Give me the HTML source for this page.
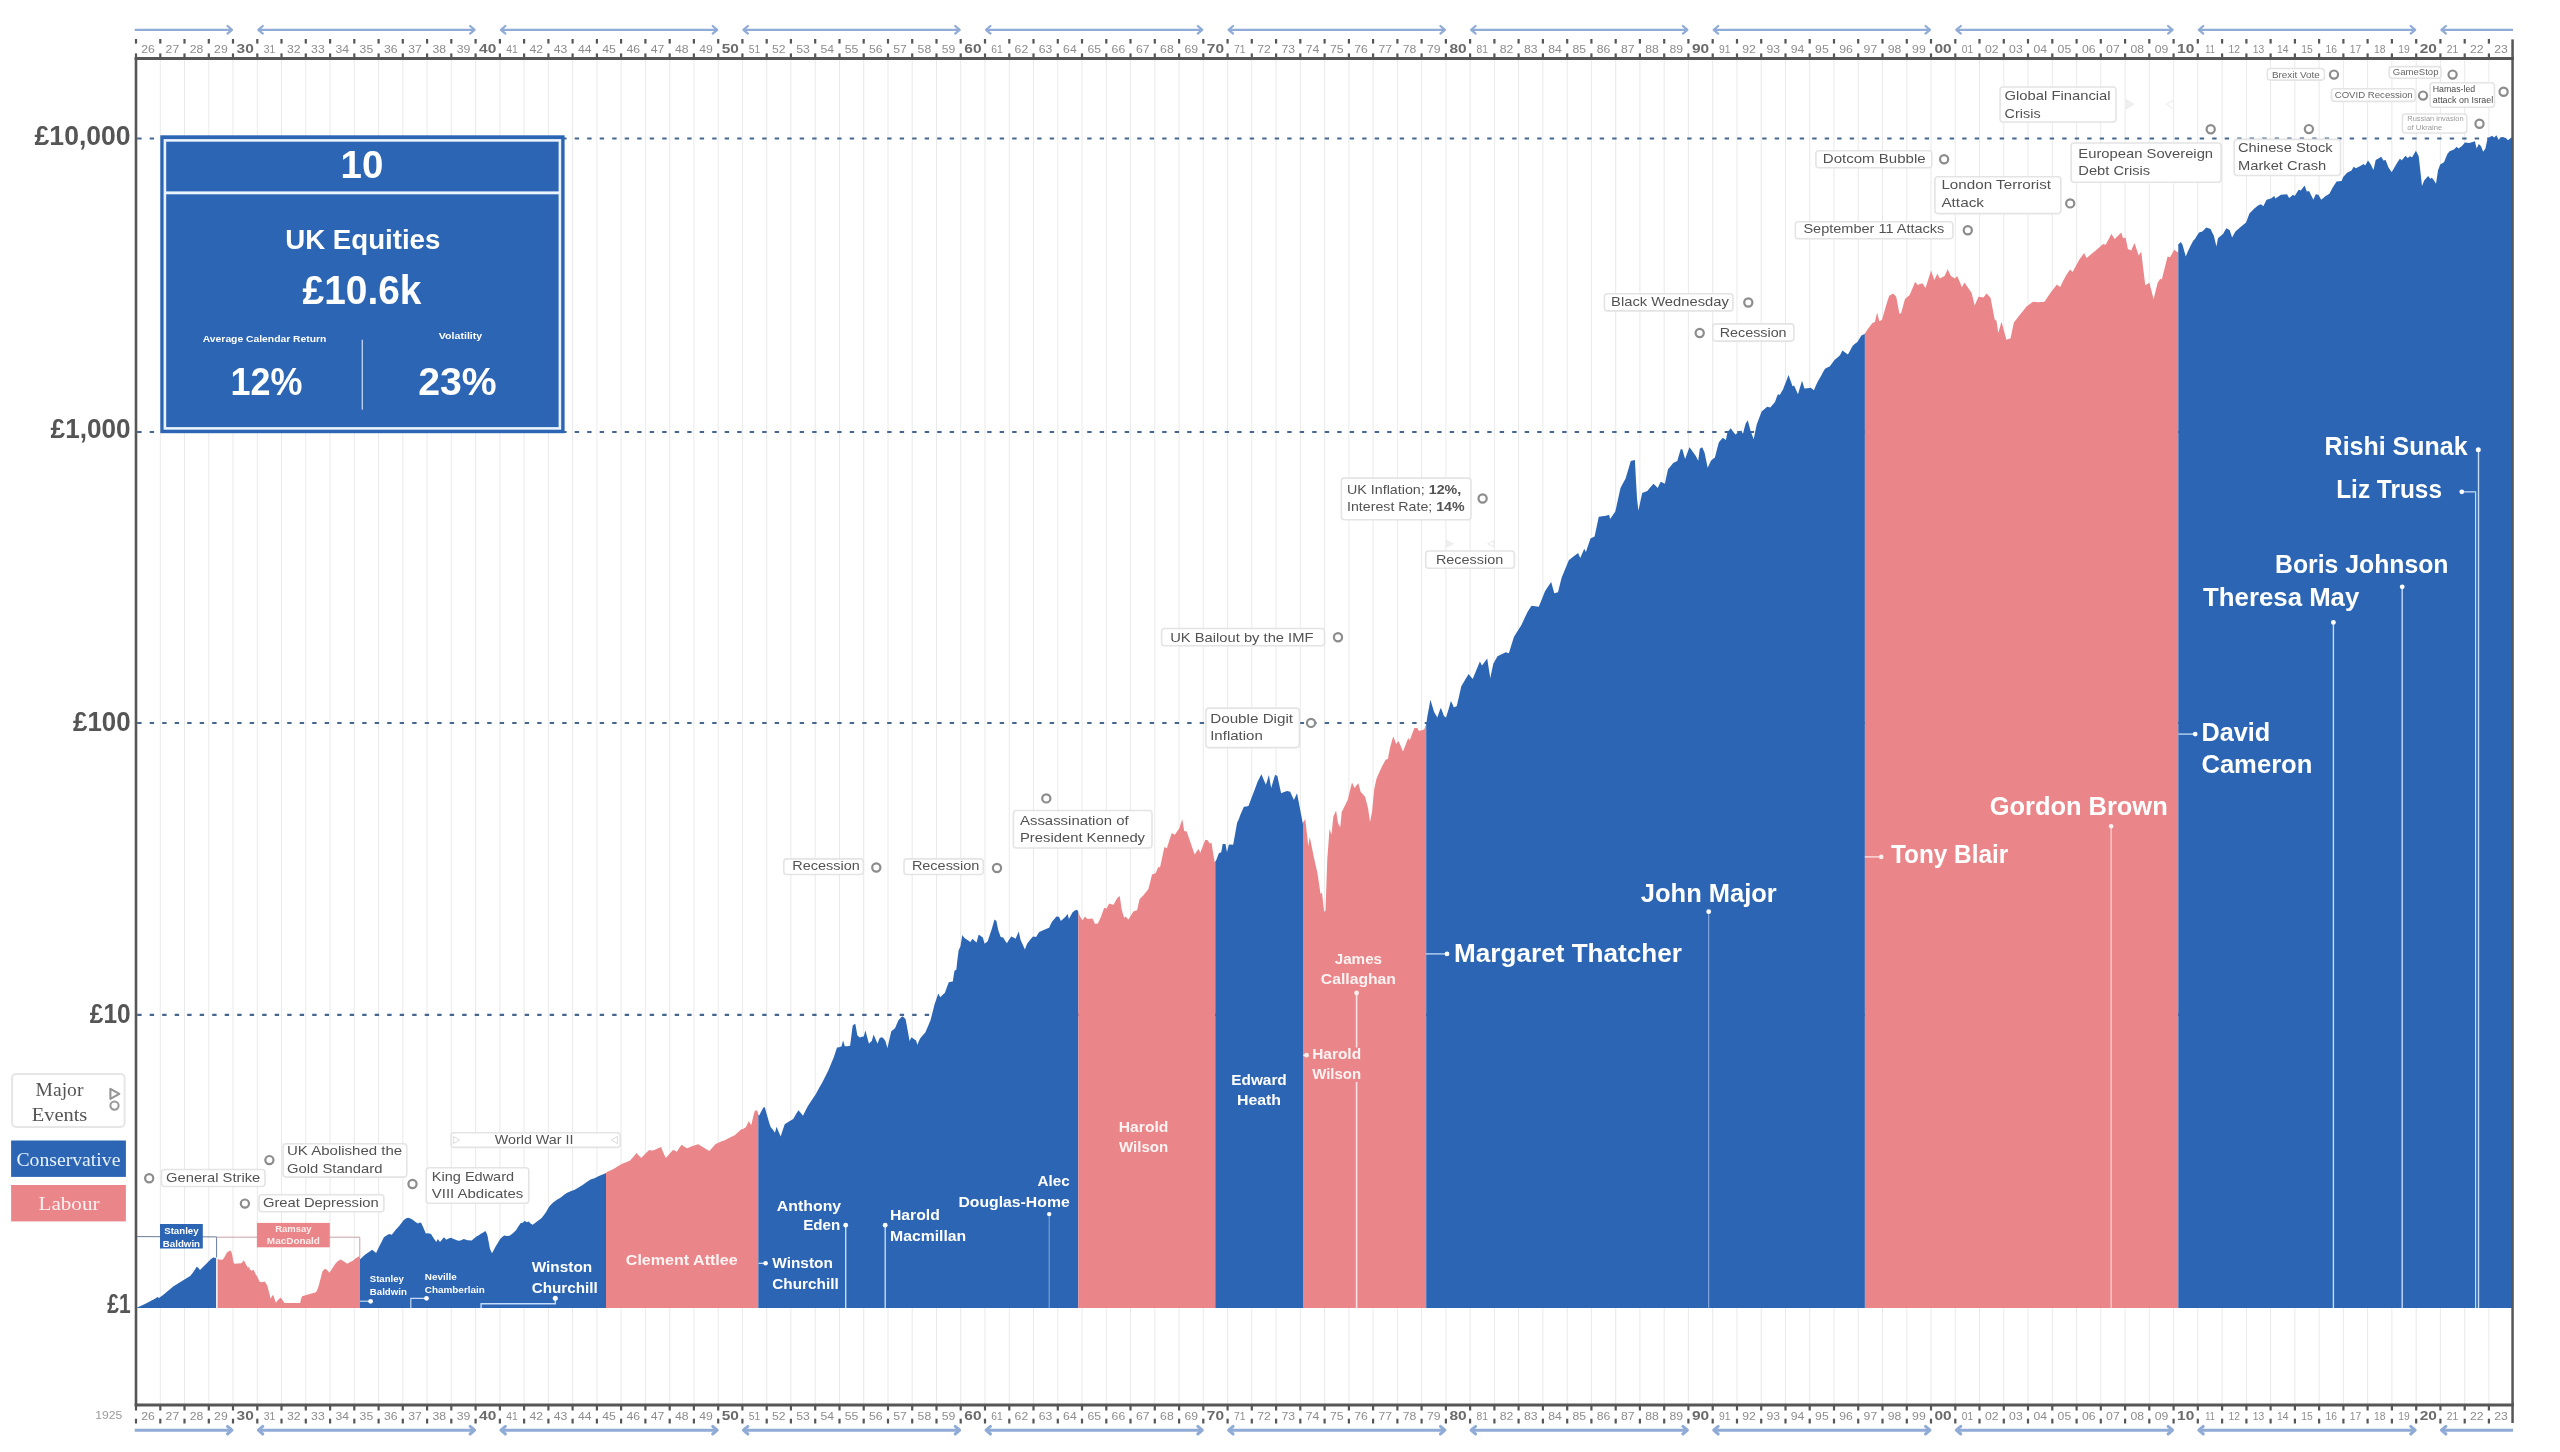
<!DOCTYPE html><html><head><meta charset="utf-8"><title>UK Equities by Prime Minister</title>
<style>html,body{margin:0;padding:0;background:#fff}body{width:2560px;height:1452px;overflow:hidden}svg{display:block;will-change:transform}text{font-family:"Liberation Sans",sans-serif}</style></head><body>
<svg width="2560" height="1452" viewBox="0 0 2560 1452">
<rect width="2560" height="1452" fill="#fff"/>
<g>
<g stroke="#dadada" stroke-width="0.6">
<line x1="160.3" y1="60" x2="160.3" y2="1404"/>
<line x1="184.5" y1="60" x2="184.5" y2="1404"/>
<line x1="208.8" y1="60" x2="208.8" y2="1404"/>
<line x1="233.0" y1="60" x2="233.0" y2="1404"/>
<line x1="257.3" y1="60" x2="257.3" y2="1404"/>
<line x1="281.5" y1="60" x2="281.5" y2="1404"/>
<line x1="305.8" y1="60" x2="305.8" y2="1404"/>
<line x1="330.1" y1="60" x2="330.1" y2="1404"/>
<line x1="354.3" y1="60" x2="354.3" y2="1404"/>
<line x1="378.6" y1="60" x2="378.6" y2="1404"/>
<line x1="402.8" y1="60" x2="402.8" y2="1404"/>
<line x1="427.1" y1="60" x2="427.1" y2="1404"/>
<line x1="451.3" y1="60" x2="451.3" y2="1404"/>
<line x1="475.6" y1="60" x2="475.6" y2="1404"/>
<line x1="499.9" y1="60" x2="499.9" y2="1404"/>
<line x1="524.1" y1="60" x2="524.1" y2="1404"/>
<line x1="548.4" y1="60" x2="548.4" y2="1404"/>
<line x1="572.6" y1="60" x2="572.6" y2="1404"/>
<line x1="596.9" y1="60" x2="596.9" y2="1404"/>
<line x1="621.1" y1="60" x2="621.1" y2="1404"/>
<line x1="645.4" y1="60" x2="645.4" y2="1404"/>
<line x1="669.7" y1="60" x2="669.7" y2="1404"/>
<line x1="693.9" y1="60" x2="693.9" y2="1404"/>
<line x1="718.2" y1="60" x2="718.2" y2="1404"/>
<line x1="742.4" y1="60" x2="742.4" y2="1404"/>
<line x1="766.7" y1="60" x2="766.7" y2="1404"/>
<line x1="790.9" y1="60" x2="790.9" y2="1404"/>
<line x1="815.2" y1="60" x2="815.2" y2="1404"/>
<line x1="839.5" y1="60" x2="839.5" y2="1404"/>
<line x1="863.7" y1="60" x2="863.7" y2="1404"/>
<line x1="888.0" y1="60" x2="888.0" y2="1404"/>
<line x1="912.2" y1="60" x2="912.2" y2="1404"/>
<line x1="936.5" y1="60" x2="936.5" y2="1404"/>
<line x1="960.7" y1="60" x2="960.7" y2="1404"/>
<line x1="985.0" y1="60" x2="985.0" y2="1404"/>
<line x1="1009.3" y1="60" x2="1009.3" y2="1404"/>
<line x1="1033.5" y1="60" x2="1033.5" y2="1404"/>
<line x1="1057.8" y1="60" x2="1057.8" y2="1404"/>
<line x1="1082.0" y1="60" x2="1082.0" y2="1404"/>
<line x1="1106.3" y1="60" x2="1106.3" y2="1404"/>
<line x1="1130.5" y1="60" x2="1130.5" y2="1404"/>
<line x1="1154.8" y1="60" x2="1154.8" y2="1404"/>
<line x1="1179.1" y1="60" x2="1179.1" y2="1404"/>
<line x1="1203.3" y1="60" x2="1203.3" y2="1404"/>
<line x1="1227.6" y1="60" x2="1227.6" y2="1404"/>
<line x1="1251.8" y1="60" x2="1251.8" y2="1404"/>
<line x1="1276.1" y1="60" x2="1276.1" y2="1404"/>
<line x1="1300.3" y1="60" x2="1300.3" y2="1404"/>
<line x1="1324.6" y1="60" x2="1324.6" y2="1404"/>
<line x1="1348.9" y1="60" x2="1348.9" y2="1404"/>
<line x1="1373.1" y1="60" x2="1373.1" y2="1404"/>
<line x1="1397.4" y1="60" x2="1397.4" y2="1404"/>
<line x1="1421.6" y1="60" x2="1421.6" y2="1404"/>
<line x1="1445.9" y1="60" x2="1445.9" y2="1404"/>
<line x1="1470.1" y1="60" x2="1470.1" y2="1404"/>
<line x1="1494.4" y1="60" x2="1494.4" y2="1404"/>
<line x1="1518.6" y1="60" x2="1518.6" y2="1404"/>
<line x1="1542.9" y1="60" x2="1542.9" y2="1404"/>
<line x1="1567.2" y1="60" x2="1567.2" y2="1404"/>
<line x1="1591.4" y1="60" x2="1591.4" y2="1404"/>
<line x1="1615.7" y1="60" x2="1615.7" y2="1404"/>
<line x1="1639.9" y1="60" x2="1639.9" y2="1404"/>
<line x1="1664.2" y1="60" x2="1664.2" y2="1404"/>
<line x1="1688.4" y1="60" x2="1688.4" y2="1404"/>
<line x1="1712.7" y1="60" x2="1712.7" y2="1404"/>
<line x1="1737.0" y1="60" x2="1737.0" y2="1404"/>
<line x1="1761.2" y1="60" x2="1761.2" y2="1404"/>
<line x1="1785.5" y1="60" x2="1785.5" y2="1404"/>
<line x1="1809.7" y1="60" x2="1809.7" y2="1404"/>
<line x1="1834.0" y1="60" x2="1834.0" y2="1404"/>
<line x1="1858.2" y1="60" x2="1858.2" y2="1404"/>
<line x1="1882.5" y1="60" x2="1882.5" y2="1404"/>
<line x1="1906.8" y1="60" x2="1906.8" y2="1404"/>
<line x1="1931.0" y1="60" x2="1931.0" y2="1404"/>
<line x1="1955.3" y1="60" x2="1955.3" y2="1404"/>
<line x1="1979.5" y1="60" x2="1979.5" y2="1404"/>
<line x1="2003.8" y1="60" x2="2003.8" y2="1404"/>
<line x1="2028.0" y1="60" x2="2028.0" y2="1404"/>
<line x1="2052.3" y1="60" x2="2052.3" y2="1404"/>
<line x1="2076.6" y1="60" x2="2076.6" y2="1404"/>
<line x1="2100.8" y1="60" x2="2100.8" y2="1404"/>
<line x1="2125.1" y1="60" x2="2125.1" y2="1404"/>
<line x1="2149.3" y1="60" x2="2149.3" y2="1404"/>
<line x1="2173.6" y1="60" x2="2173.6" y2="1404"/>
<line x1="2197.8" y1="60" x2="2197.8" y2="1404"/>
<line x1="2222.1" y1="60" x2="2222.1" y2="1404"/>
<line x1="2246.4" y1="60" x2="2246.4" y2="1404"/>
<line x1="2270.6" y1="60" x2="2270.6" y2="1404"/>
<line x1="2294.9" y1="60" x2="2294.9" y2="1404"/>
<line x1="2319.1" y1="60" x2="2319.1" y2="1404"/>
<line x1="2343.4" y1="60" x2="2343.4" y2="1404"/>
<line x1="2367.6" y1="60" x2="2367.6" y2="1404"/>
<line x1="2391.9" y1="60" x2="2391.9" y2="1404"/>
<line x1="2416.2" y1="60" x2="2416.2" y2="1404"/>
<line x1="2440.4" y1="60" x2="2440.4" y2="1404"/>
<line x1="2464.7" y1="60" x2="2464.7" y2="1404"/>
<line x1="2488.9" y1="60" x2="2488.9" y2="1404"/>
</g>
<g stroke="#46668f" stroke-width="2.2" stroke-dasharray="4.4 8.1">
<line x1="137.2" y1="138.5" x2="2512" y2="138.5"/>
<line x1="137.2" y1="432.0" x2="2512" y2="432.0"/>
<line x1="137.2" y1="723.0" x2="2512" y2="723.0"/>
<line x1="137.2" y1="1014.8" x2="2512" y2="1014.8"/>
</g>
<path d="M136.5,1308 L136.5,1307.4 L137.2,1307.4 L145.0,1304.0 L154.9,1298.8 L157.5,1297.0 L159.0,1298.0 L164.0,1294.3 L173.2,1286.4 L182.0,1281.0 L190.2,1276.0 L193.0,1272.5 L196.8,1266.8 L198.0,1267.5 L200.0,1270.0 L204.0,1266.0 L208.5,1261.5 L211.0,1259.0 L213.8,1257.2 L215.0,1258.3 L216.1,1257.6 L216.1,1257.6 L216.1,1308 Z" fill="#2b65b4"/>
<path d="M217.4,1308 L217.4,1258.9 L217.7,1258.9 L220.0,1259.8 L222.9,1259.6 L224.5,1257.0 L226.9,1252.4 L228.5,1251.5 L230.1,1250.4 L231.2,1251.5 L232.1,1254.3 L233.4,1262.2 L234.7,1263.8 L238.0,1263.6 L241.3,1263.2 L242.5,1262.0 L243.9,1260.2 L245.5,1263.5 L247.8,1267.4 L249.0,1267.0 L250.0,1269.5 L251.7,1270.7 L253.7,1269.8 L255.5,1274.0 L257.5,1277.0 L259.6,1281.8 L262.0,1282.3 L264.8,1281.6 L267.4,1285.8 L269.0,1292.0 L270.7,1298.8 L272.0,1296.0 L273.3,1294.9 L274.6,1299.0 L275.9,1302.8 L278.0,1300.0 L280.5,1297.5 L282.5,1300.0 L284.4,1303.0 L292.0,1303.0 L300.2,1303.0 L301.0,1299.0 L302.1,1296.2 L308.0,1294.5 L315.9,1292.3 L317.2,1290.0 L318.5,1286.4 L320.5,1279.0 L322.4,1271.4 L324.0,1269.5 L325.7,1268.7 L327.5,1270.5 L329.6,1272.7 L332.5,1268.0 L335.5,1263.5 L338.0,1261.0 L340.7,1259.6 L344.0,1261.5 L347.3,1263.8 L350.0,1262.0 L352.5,1260.9 L355.5,1258.5 L359.0,1256.3 L360.0,1257.5 L360.0,1257.5 L360.0,1308 Z" fill="#ea8689"/>
<path d="M360.0,1308 L360.0,1258.9 L360.4,1258.9 L363.0,1256.5 L365.6,1254.3 L369.0,1252.0 L372.1,1249.8 L374.0,1251.2 L376.1,1253.0 L378.0,1249.0 L380.0,1245.0 L383.9,1237.3 L386.5,1235.5 L389.2,1234.1 L391.8,1234.7 L395.5,1230.0 L399.6,1225.5 L401.5,1223.0 L403.6,1220.3 L405.8,1218.6 L408.1,1217.7 L410.5,1218.4 L412.7,1219.7 L415.5,1222.0 L418.0,1223.6 L419.8,1222.6 L421.2,1222.9 L423.5,1228.0 L425.8,1233.4 L428.3,1233.2 L431.0,1234.1 L433.5,1238.0 L436.3,1241.9 L437.8,1239.0 L440.0,1242.1 L442.0,1239.5 L444.0,1237.3 L446.3,1239.7 L448.5,1238.5 L451.1,1237.7 L453.5,1239.0 L455.8,1239.7 L458.0,1240.8 L460.6,1240.5 L463.8,1238.9 L467.5,1240.3 L471.7,1240.5 L474.0,1238.5 L476.4,1236.5 L478.8,1235.2 L481.2,1233.4 L483.2,1232.5 L485.2,1231.0 L486.3,1232.5 L487.5,1235.8 L488.7,1242.0 L489.9,1248.4 L491.0,1251.2 L492.0,1253.2 L493.5,1250.5 L495.5,1246.8 L497.8,1243.0 L500.2,1238.9 L502.2,1237.0 L504.2,1235.4 L507.0,1235.9 L509.7,1235.8 L512.8,1233.2 L516.0,1230.2 L518.3,1226.5 L520.8,1223.1 L522.8,1222.8 L524.8,1220.7 L526.6,1222.3 L528.7,1221.5 L530.6,1223.6 L532.7,1224.7 L537.0,1221.5 L541.4,1218.3 L543.8,1215.3 L546.1,1212.0 L547.8,1209.0 L549.3,1206.4 L551.6,1204.0 L554.1,1201.7 L557.3,1199.6 L560.4,1197.7 L563.5,1195.2 L566.7,1193.0 L570.6,1191.3 L574.7,1189.8 L578.5,1187.6 L582.6,1185.1 L586.4,1182.2 L590.5,1179.5 L594.5,1178.3 L598.4,1176.3 L602.0,1174.8 L605.6,1173.2 L606.0,1173.2 L606.0,1308 Z" fill="#2b65b4"/>
<path d="M606.0,1308 L606.0,1172.5 L606.5,1172.5 L607.9,1171.6 L611.0,1170.2 L614.3,1168.4 L618.2,1166.0 L622.2,1163.7 L626.2,1162.3 L630.1,1160.5 L633.2,1157.0 L636.5,1153.1 L638.8,1155.5 L641.2,1158.1 L645.0,1154.0 L649.1,1149.9 L651.5,1150.6 L653.9,1150.2 L657.5,1148.4 L661.0,1147.0 L663.3,1152.5 L665.8,1158.1 L669.4,1154.0 L672.9,1149.9 L674.9,1150.6 L676.9,1151.8 L679.2,1148.0 L681.6,1144.7 L684.4,1146.8 L687.1,1148.3 L692.5,1146.0 L698.2,1144.2 L703.5,1147.5 L709.3,1151.0 L712.5,1147.5 L715.7,1143.9 L720.5,1141.7 L725.2,1139.9 L730.0,1137.4 L734.7,1135.2 L737.8,1132.5 L741.0,1129.6 L743.5,1128.7 L745.8,1127.2 L747.4,1124.0 L748.9,1120.9 L750.1,1123.5 L751.3,1124.9 L752.9,1118.0 L754.5,1111.4 L755.7,1110.6 L756.9,1110.3 L757.6,1112.0 L758.3,1113.8 L758.3,1113.8 L758.3,1308 Z" fill="#ea8689"/>
<path d="M758.3,1308 L758.3,1115.0 L758.6,1115.0 L759.2,1115.5 L761.2,1111.5 L763.4,1107.5 L764.8,1107.3 L766.4,1113.0 L767.9,1118.2 L769.4,1123.5 L770.9,1127.5 L772.8,1129.5 L774.9,1132.7 L775.7,1130.0 L776.6,1126.8 L778.5,1131.5 L780.7,1136.6 L782.6,1130.5 L784.7,1124.2 L789.0,1121.4 L793.2,1118.9 L795.8,1114.5 L798.4,1110.2 L800.8,1113.0 L803.0,1115.7 L805.2,1111.2 L807.6,1106.5 L811.5,1100.5 L815.4,1094.7 L818.7,1088.8 L822.0,1083.0 L825.3,1076.5 L828.5,1069.9 L831.0,1064.0 L833.7,1057.5 L835.3,1052.8 L837.0,1047.6 L839.3,1047.2 L841.6,1046.3 L842.4,1043.0 L843.1,1040.5 L844.0,1043.5 L844.8,1046.3 L847.5,1046.2 L850.1,1045.7 L851.4,1035.5 L852.7,1025.4 L854.0,1024.4 L855.3,1023.8 L856.3,1029.5 L857.3,1035.2 L858.6,1036.5 L859.9,1037.4 L861.8,1036.8 L863.8,1036.5 L864.6,1033.5 L865.4,1030.6 L867.2,1037.2 L869.0,1043.7 L870.3,1042.2 L871.7,1041.1 L872.7,1037.8 L873.6,1034.6 L875.6,1039.2 L877.6,1043.7 L878.5,1041.0 L879.5,1038.5 L880.8,1037.5 L882.1,1037.2 L883.8,1038.8 L885.4,1041.1 L886.4,1044.5 L887.4,1048.3 L889.3,1039.8 L891.3,1031.3 L893.2,1029.8 L895.2,1028.0 L896.8,1024.0 L898.5,1020.2 L900.5,1018.0 L902.4,1016.3 L904.0,1017.5 L905.7,1019.5 L907.7,1030.5 L909.6,1041.1 L910.6,1039.0 L911.6,1037.2 L913.8,1039.0 L916.1,1040.5 L917.4,1045.0 L918.7,1041.5 L920.1,1038.5 L922.6,1035.5 L925.3,1032.6 L927.9,1026.5 L930.5,1020.2 L932.5,1012.5 L934.5,1004.5 L936.4,999.0 L938.4,993.4 L939.4,995.5 L940.3,997.3 L942.5,995.0 L944.9,992.7 L946.8,987.5 L948.8,982.2 L950.8,981.8 L952.8,981.6 L953.6,976.0 L954.5,970.8 L956.3,969.8 L957.4,960.0 L958.6,950.6 L960.5,946.3 L961.4,940.5 L962.3,935.1 L963.5,936.7 L964.8,938.2 L967.5,940.0 L970.4,941.9 L971.5,940.2 L972.5,938.8 L974.5,940.7 L976.6,942.6 L977.6,938.5 L978.7,934.5 L980.7,936.0 L982.8,937.6 L983.7,940.5 L984.6,943.8 L986.2,942.5 L987.7,941.3 L989.5,935.8 L991.4,930.2 L993.0,924.8 L994.5,919.6 L996.4,920.9 L997.3,925.5 L998.3,930.2 L999.5,933.8 L1000.7,937.0 L1003.2,937.6 L1005.0,940.5 L1006.9,943.2 L1009.0,939.8 L1011.3,936.4 L1013.5,937.6 L1015.6,938.8 L1017.2,935.0 L1018.7,931.4 L1019.6,935.5 L1020.6,940.1 L1022.8,944.8 L1024.9,949.4 L1026.1,946.2 L1027.4,943.2 L1030.2,939.8 L1033.0,936.4 L1036.1,937.0 L1037.6,934.5 L1039.2,932.0 L1042.6,930.4 L1046.0,928.9 L1049.1,927.7 L1050.6,924.6 L1052.2,921.5 L1054.3,919.0 L1056.5,916.5 L1059.0,916.8 L1060.9,920.9 L1063.0,919.0 L1065.2,917.1 L1067.7,914.0 L1068.9,919.0 L1070.8,915.6 L1072.6,912.2 L1074.5,910.8 L1076.4,909.7 L1077.4,910.2 L1078.2,911.6 L1078.3,911.6 L1078.3,1308 Z" fill="#2b65b4"/>
<path d="M1078.3,1308 L1078.3,913.0 L1078.6,913.0 L1080.1,916.5 L1081.3,918.5 L1082.6,920.2 L1083.8,918.3 L1085.0,916.5 L1086.2,917.8 L1087.5,919.0 L1090.0,918.7 L1092.5,918.4 L1093.7,921.0 L1095.0,924.0 L1096.5,923.8 L1098.0,923.3 L1099.5,920.0 L1101.1,916.5 L1102.6,912.2 L1104.2,907.8 L1105.5,908.3 L1106.7,908.5 L1108.0,905.8 L1109.2,903.5 L1111.3,904.2 L1113.5,904.7 L1115.4,901.3 L1117.3,897.9 L1118.5,897.0 L1119.7,896.1 L1120.7,902.5 L1121.6,909.1 L1122.8,913.5 L1124.1,917.8 L1125.9,916.5 L1127.1,918.2 L1128.4,919.6 L1130.9,915.5 L1133.4,911.6 L1135.2,910.8 L1137.1,910.3 L1138.3,904.7 L1139.6,899.2 L1141.4,897.2 L1143.3,895.5 L1145.8,892.3 L1148.3,889.3 L1150.2,882.0 L1152.0,874.4 L1153.8,873.9 L1155.7,873.1 L1157.0,870.0 L1158.2,866.9 L1160.0,867.6 L1162.2,857.5 L1164.4,847.1 L1166.9,848.3 L1169.3,840.5 L1171.8,832.9 L1173.3,833.9 L1174.9,834.7 L1177.0,831.5 L1179.2,828.5 L1180.7,824.0 L1182.3,819.2 L1183.2,825.0 L1184.2,831.0 L1186.7,831.6 L1189.8,840.5 L1192.9,849.6 L1194.7,854.5 L1196.6,851.5 L1198.5,849.0 L1200.3,852.7 L1202.8,846.2 L1205.3,839.7 L1207.8,840.3 L1209.6,843.4 L1211.5,842.8 L1213.0,852.5 L1214.6,862.0 L1215.3,862.5 L1215.3,862.5 L1215.3,1308 Z" fill="#ea8689"/>
<path d="M1215.3,1308 L1215.3,861.0 L1215.9,861.0 L1217.4,857.0 L1218.9,853.2 L1221.2,852.3 L1222.0,848.0 L1222.7,843.9 L1225.5,843.9 L1226.2,848.0 L1227.0,852.3 L1227.9,848.5 L1228.8,844.7 L1230.7,844.4 L1232.6,844.7 L1233.2,844.6 L1235.2,833.6 L1237.1,822.7 L1238.7,819.5 L1240.5,814.5 L1243.9,806.8 L1246.2,806.6 L1248.5,806.1 L1250.7,800.0 L1253.0,793.9 L1255.3,788.0 L1257.6,781.8 L1259.5,778.0 L1261.4,774.2 L1263.6,779.5 L1265.9,784.8 L1267.4,779.9 L1268.9,775.0 L1270.0,781.5 L1271.2,787.9 L1273.1,781.5 L1275.0,775.0 L1277.3,775.8 L1279.2,784.5 L1281.1,793.2 L1284.1,792.0 L1287.1,790.9 L1290.2,791.7 L1292.0,795.8 L1293.9,800.0 L1295.5,796.5 L1297.0,793.2 L1298.1,798.8 L1299.2,804.5 L1301.1,814.5 L1303.0,824.2 L1303.0,824.2 L1303.0,1308 Z" fill="#2b65b4"/>
<path d="M1303.0,1308 L1303.0,822.0 L1303.5,822.0 L1305.3,818.9 L1306.8,832.5 L1308.3,846.2 L1309.0,841.5 L1309.8,837.1 L1311.7,846.6 L1313.6,856.1 L1315.5,864.4 L1317.4,872.7 L1319.0,883.3 L1320.5,893.9 L1322.0,892.4 L1323.1,902.2 L1324.2,912.1 L1325.5,910.6 L1326.4,885.0 L1327.3,859.1 L1328.4,844.0 L1329.5,828.8 L1330.5,831.8 L1331.5,834.8 L1332.4,825.7 L1333.3,816.7 L1334.7,813.6 L1336.1,810.6 L1337.0,816.6 L1337.9,822.7 L1339.0,825.0 L1340.2,827.3 L1341.0,819.7 L1341.7,812.1 L1344.7,806.0 L1347.7,800.0 L1349.8,791.3 L1352.0,782.6 L1353.3,785.2 L1354.5,787.9 L1356.4,785.6 L1358.3,783.3 L1359.5,787.5 L1360.6,791.7 L1362.9,794.3 L1365.2,797.0 L1366.7,803.0 L1368.2,809.1 L1369.1,815.5 L1370.0,822.0 L1371.0,817.0 L1372.0,812.1 L1373.1,800.7 L1374.2,789.4 L1375.3,784.1 L1376.5,778.8 L1379.1,772.7 L1381.8,766.7 L1383.7,763.2 L1385.6,759.8 L1387.9,759.1 L1389.0,753.0 L1390.2,747.0 L1391.7,741.7 L1393.2,736.4 L1394.7,740.1 L1396.2,743.9 L1397.3,742.4 L1398.5,740.9 L1400.8,746.2 L1403.0,751.5 L1405.6,744.7 L1408.3,737.9 L1409.8,740.2 L1412.1,734.1 L1414.4,728.0 L1417.4,728.0 L1418.9,731.1 L1421.5,730.3 L1424.2,729.5 L1425.2,726.8 L1426.1,724.2 L1426.2,724.2 L1426.2,1308 Z" fill="#ea8689"/>
<path d="M1426.2,1308 L1426.2,722.0 L1426.6,722.0 L1427.3,716.7 L1428.9,708.3 L1430.4,699.8 L1432.3,706.0 L1434.1,712.1 L1435.6,714.4 L1437.3,717.5 L1439.0,712.5 L1440.8,707.8 L1442.4,711.8 L1443.9,715.9 L1446.0,717.4 L1448.5,709.4 L1450.9,701.0 L1452.4,704.0 L1453.9,707.4 L1456.8,705.9 L1459.1,696.0 L1461.3,686.3 L1465.0,680.0 L1468.6,673.9 L1470.6,676.5 L1472.7,679.0 L1476.3,670.2 L1479.9,661.5 L1482.0,665.6 L1484.6,662.0 L1487.2,658.4 L1488.7,668.2 L1490.3,678.0 L1491.8,670.7 L1493.4,663.5 L1495.4,659.9 L1497.5,656.3 L1501.6,654.2 L1505.8,652.2 L1508.9,653.2 L1511.4,645.0 L1514.0,636.7 L1517.6,631.0 L1521.3,625.3 L1524.4,618.6 L1527.5,611.9 L1529.5,608.8 L1531.6,605.7 L1535.2,606.2 L1538.8,606.7 L1541.9,599.0 L1545.0,591.2 L1548.1,586.5 L1551.2,581.9 L1552.7,587.6 L1554.3,593.3 L1558.0,592.2 L1559.8,585.0 L1561.6,577.8 L1565.2,569.0 L1568.8,560.2 L1573.4,556.6 L1578.1,553.0 L1580.2,558.1 L1582.2,553.4 L1584.3,548.8 L1585.9,551.9 L1588.2,545.2 L1590.5,538.5 L1592.5,537.4 L1594.6,536.4 L1596.7,526.6 L1598.8,516.8 L1602.4,516.3 L1606.0,515.8 L1609.1,514.7 L1610.1,518.9 L1612.7,515.2 L1615.3,511.6 L1617.9,499.7 L1620.5,487.9 L1623.0,483.2 L1625.6,478.6 L1628.2,469.8 L1630.8,461.0 L1634.9,460.0 L1635.9,479.0 L1637.0,498.2 L1638.4,510.6 L1640.3,501.8 L1642.2,493.0 L1644.7,492.0 L1647.3,491.0 L1650.4,487.3 L1653.5,483.7 L1655.6,485.8 L1657.7,487.9 L1659.2,484.8 L1660.8,481.7 L1662.8,482.7 L1664.9,483.7 L1666.4,476.5 L1668.0,469.3 L1670.6,466.2 L1673.2,463.1 L1675.2,462.0 L1677.3,461.0 L1679.0,455.0 L1680.8,449.0 L1682.4,449.6 L1683.7,454.3 L1685.1,459.1 L1687.3,453.1 L1689.5,447.2 L1692.6,451.5 L1695.8,455.9 L1698.2,460.7 L1699.0,454.7 L1699.8,448.8 L1702.2,447.2 L1704.6,452.8 L1706.1,460.3 L1707.7,467.8 L1709.3,464.2 L1710.9,460.7 L1712.9,459.1 L1714.9,457.5 L1716.8,450.0 L1718.8,442.5 L1720.8,440.1 L1722.8,437.7 L1725.9,440.1 L1726.7,436.1 L1727.5,432.2 L1729.1,430.2 L1730.7,428.2 L1733.0,431.4 L1735.4,434.6 L1738.2,432.6 L1741.0,430.6 L1743.0,433.8 L1744.3,428.6 L1745.7,423.5 L1747.8,420.3 L1749.1,425.4 L1750.5,430.6 L1752.1,434.9 L1753.7,439.3 L1755.2,431.8 L1756.8,424.3 L1759.2,417.9 L1761.6,411.6 L1764.3,409.2 L1767.1,406.8 L1770.3,407.6 L1772.6,404.8 L1775.0,402.1 L1776.4,398.1 L1777.9,394.2 L1779.8,394.9 L1781.4,392.1 L1783.0,389.4 L1784.5,385.4 L1786.1,381.5 L1788.5,375.1 L1790.5,380.6 L1792.5,386.2 L1794.1,385.4 L1796.0,389.8 L1798.0,394.2 L1800.0,387.4 L1802.0,380.7 L1803.2,384.6 L1804.4,388.6 L1807.5,388.2 L1810.7,387.8 L1813.9,390.2 L1815.8,385.8 L1817.8,381.5 L1821.0,375.9 L1823.0,372.3 L1825.0,368.8 L1827.3,367.6 L1829.7,366.4 L1832.1,363.2 L1834.5,360.1 L1837.2,357.7 L1840.0,355.3 L1842.4,350.6 L1845.1,352.6 L1847.9,354.6 L1850.3,350.2 L1852.7,345.8 L1855.0,343.8 L1857.4,341.9 L1859.4,338.7 L1861.4,335.5 L1864.6,334.0 L1864.9,334.0 L1864.9,1308 Z" fill="#2b65b4"/>
<path d="M1864.9,1308 L1864.9,333.0 L1865.2,333.0 L1867.7,329.2 L1870.1,326.0 L1872.5,322.9 L1874.9,322.1 L1876.0,317.3 L1877.2,312.6 L1878.2,317.0 L1879.3,321.3 L1882.0,319.7 L1883.9,312.9 L1885.9,306.2 L1887.5,301.0 L1889.1,295.9 L1891.1,294.7 L1893.1,293.6 L1896.2,296.7 L1897.8,305.0 L1899.4,313.4 L1901.0,313.4 L1903.0,306.2 L1905.0,299.1 L1907.3,297.1 L1909.7,295.1 L1912.4,288.4 L1915.2,281.7 L1917.6,284.9 L1920.0,284.1 L1922.4,283.3 L1925.5,288.0 L1928.3,279.3 L1931.1,270.6 L1932.7,275.3 L1934.3,280.1 L1937.4,273.8 L1939.8,278.5 L1942.2,277.3 L1944.6,276.1 L1946.1,272.7 L1947.7,269.3 L1949.3,272.7 L1950.9,276.1 L1954.9,278.5 L1957.2,276.1 L1959.6,281.6 L1962.0,287.2 L1964.4,282.5 L1967.9,287.6 L1971.5,292.8 L1973.1,299.1 L1974.7,305.4 L1976.6,301.0 L1978.6,296.7 L1983.4,297.5 L1986.5,293.6 L1988.5,295.5 L1990.6,298.0 L1992.7,309.0 L1994.7,319.5 L1996.5,320.8 L1998.3,333.0 L1999.9,327.5 L2001.5,321.7 L2004.0,330.7 L2006.4,339.8 L2010.6,338.2 L2012.2,330.3 L2013.9,322.5 L2016.8,318.7 L2019.7,315.0 L2023.0,310.9 L2026.3,306.8 L2029.6,304.3 L2032.9,301.8 L2038.7,302.3 L2044.5,301.8 L2047.8,296.8 L2051.1,291.9 L2054.0,288.2 L2056.9,284.5 L2060.2,286.9 L2063.1,281.1 L2066.0,275.4 L2068.0,272.5 L2070.1,269.6 L2072.6,272.1 L2075.9,265.9 L2079.2,259.7 L2081.6,256.4 L2084.1,253.1 L2086.6,258.0 L2091.1,254.3 L2095.7,250.6 L2099.4,247.3 L2103.1,244.0 L2105.6,244.8 L2108.5,239.4 L2111.4,234.0 L2114.7,239.0 L2118.0,235.7 L2121.3,232.4 L2123.0,238.2 L2125.5,237.4 L2126.7,243.1 L2127.9,248.9 L2131.2,250.6 L2132.8,246.8 L2134.5,243.1 L2136.6,249.3 L2138.7,255.5 L2141.2,251.4 L2143.2,268.3 L2145.3,285.3 L2149.4,282.8 L2151.5,291.0 L2153.6,299.3 L2155.6,291.0 L2157.7,282.8 L2160.2,278.7 L2161.8,279.5 L2164.7,267.9 L2167.6,256.4 L2170.1,257.2 L2172.1,253.5 L2174.2,249.8 L2177.5,252.2 L2178.3,251.0 L2178.3,251.0 L2178.3,1308 Z" fill="#ea8689"/>
<path d="M2178.3,1308 L2178.3,244.0 L2178.8,244.0 L2180.8,242.0 L2182.5,244.8 L2184.1,250.6 L2185.8,256.4 L2187.0,253.5 L2188.3,250.6 L2190.7,245.6 L2193.2,240.7 L2194.9,239.0 L2196.9,235.7 L2199.0,232.4 L2202.3,231.6 L2204.3,229.5 L2206.4,227.4 L2210.6,229.1 L2212.2,232.4 L2213.9,235.7 L2215.1,241.0 L2216.4,246.4 L2218.0,238.2 L2220.5,236.1 L2223.0,234.0 L2226.3,228.3 L2229.6,229.9 L2232.1,237.4 L2235.4,231.6 L2238.3,229.1 L2241.2,226.6 L2246.1,222.5 L2249.4,213.4 L2254.4,208.4 L2258.0,205.6 L2261.0,204.3 L2263.3,206.3 L2266.6,199.7 L2271.0,198.6 L2274.3,195.9 L2275.4,198.6 L2280.9,194.8 L2287.0,194.2 L2289.2,198.1 L2293.1,194.8 L2294.7,195.9 L2298.6,189.8 L2300.8,190.4 L2304.6,185.4 L2306.8,191.5 L2309.0,190.9 L2313.4,199.7 L2315.7,194.2 L2318.4,194.8 L2321.2,199.7 L2325.0,196.4 L2329.4,193.7 L2332.7,187.6 L2336.6,181.6 L2341.6,181.0 L2343.2,177.1 L2347.1,172.7 L2351.5,170.5 L2353.7,166.7 L2355.9,168.3 L2360.3,166.1 L2363.6,163.9 L2365.2,165.6 L2368.0,160.6 L2370.2,163.4 L2373.5,170.0 L2375.7,160.1 L2378.5,158.4 L2381.2,156.8 L2383.4,160.6 L2385.6,160.1 L2388.4,167.2 L2391.7,172.2 L2394.5,167.2 L2397.2,162.8 L2400.0,158.4 L2401.6,160.6 L2405.5,155.7 L2407.7,157.9 L2409.9,156.2 L2412.1,157.3 L2415.9,150.7 L2418.7,156.2 L2420.3,170.5 L2422.0,185.9 L2424.2,180.4 L2428.1,176.0 L2430.3,178.8 L2431.9,177.7 L2434.1,180.4 L2436.0,183.7 L2438.0,170.5 L2440.2,164.5 L2444.0,162.3 L2447.4,154.0 L2449.6,151.2 L2454.0,149.6 L2456.7,146.8 L2458.4,148.5 L2461.7,146.3 L2465.0,142.4 L2469.4,143.0 L2474.9,141.3 L2476.6,148.5 L2478.8,144.1 L2481.0,146.3 L2483.2,151.8 L2485.4,148.5 L2487.6,138.6 L2492.0,135.8 L2494.2,137.5 L2496.4,135.3 L2498.6,139.7 L2501.9,136.9 L2505.8,138.0 L2508.0,140.2 L2511.3,137.5 L2512.2,137.8 L2512.2,137.8 L2512.2,1308 Z" fill="#2b65b4"/>
<g fill="#565656">
<rect x="134.7" y="57" width="2379.3" height="3"/>
<rect x="134.7" y="1403.5" width="2379.3" height="3"/>
<rect x="134.7" y="57" width="2.6" height="1349"/>
<rect x="2511.3" y="39.4" width="2.5" height="1383.6"/>
<rect x="134.9" y="39" width="2.2" height="4.6"/><rect x="134.9" y="53.4" width="2.2" height="4"/>
<rect x="134.9" y="1406" width="2.2" height="4.5"/><rect x="134.9" y="1418.7" width="2.2" height="4.8"/>
<rect x="159.2" y="39" width="2.2" height="4.6"/><rect x="159.2" y="53.4" width="2.2" height="4"/>
<rect x="159.2" y="1406" width="2.2" height="4.5"/><rect x="159.2" y="1418.7" width="2.2" height="4.8"/>
<rect x="183.4" y="39" width="2.2" height="4.6"/><rect x="183.4" y="53.4" width="2.2" height="4"/>
<rect x="183.4" y="1406" width="2.2" height="4.5"/><rect x="183.4" y="1418.7" width="2.2" height="4.8"/>
<rect x="207.7" y="39" width="2.2" height="4.6"/><rect x="207.7" y="53.4" width="2.2" height="4"/>
<rect x="207.7" y="1406" width="2.2" height="4.5"/><rect x="207.7" y="1418.7" width="2.2" height="4.8"/>
<rect x="231.9" y="39" width="2.2" height="4.6"/><rect x="231.9" y="53.4" width="2.2" height="4"/>
<rect x="231.9" y="1406" width="2.2" height="4.5"/><rect x="231.9" y="1418.7" width="2.2" height="4.8"/>
<rect x="256.2" y="39" width="2.2" height="4.6"/><rect x="256.2" y="53.4" width="2.2" height="4"/>
<rect x="256.2" y="1406" width="2.2" height="4.5"/><rect x="256.2" y="1418.7" width="2.2" height="4.8"/>
<rect x="280.4" y="39" width="2.2" height="4.6"/><rect x="280.4" y="53.4" width="2.2" height="4"/>
<rect x="280.4" y="1406" width="2.2" height="4.5"/><rect x="280.4" y="1418.7" width="2.2" height="4.8"/>
<rect x="304.7" y="39" width="2.2" height="4.6"/><rect x="304.7" y="53.4" width="2.2" height="4"/>
<rect x="304.7" y="1406" width="2.2" height="4.5"/><rect x="304.7" y="1418.7" width="2.2" height="4.8"/>
<rect x="329.0" y="39" width="2.2" height="4.6"/><rect x="329.0" y="53.4" width="2.2" height="4"/>
<rect x="329.0" y="1406" width="2.2" height="4.5"/><rect x="329.0" y="1418.7" width="2.2" height="4.8"/>
<rect x="353.2" y="39" width="2.2" height="4.6"/><rect x="353.2" y="53.4" width="2.2" height="4"/>
<rect x="353.2" y="1406" width="2.2" height="4.5"/><rect x="353.2" y="1418.7" width="2.2" height="4.8"/>
<rect x="377.5" y="39" width="2.2" height="4.6"/><rect x="377.5" y="53.4" width="2.2" height="4"/>
<rect x="377.5" y="1406" width="2.2" height="4.5"/><rect x="377.5" y="1418.7" width="2.2" height="4.8"/>
<rect x="401.7" y="39" width="2.2" height="4.6"/><rect x="401.7" y="53.4" width="2.2" height="4"/>
<rect x="401.7" y="1406" width="2.2" height="4.5"/><rect x="401.7" y="1418.7" width="2.2" height="4.8"/>
<rect x="426.0" y="39" width="2.2" height="4.6"/><rect x="426.0" y="53.4" width="2.2" height="4"/>
<rect x="426.0" y="1406" width="2.2" height="4.5"/><rect x="426.0" y="1418.7" width="2.2" height="4.8"/>
<rect x="450.2" y="39" width="2.2" height="4.6"/><rect x="450.2" y="53.4" width="2.2" height="4"/>
<rect x="450.2" y="1406" width="2.2" height="4.5"/><rect x="450.2" y="1418.7" width="2.2" height="4.8"/>
<rect x="474.5" y="39" width="2.2" height="4.6"/><rect x="474.5" y="53.4" width="2.2" height="4"/>
<rect x="474.5" y="1406" width="2.2" height="4.5"/><rect x="474.5" y="1418.7" width="2.2" height="4.8"/>
<rect x="498.8" y="39" width="2.2" height="4.6"/><rect x="498.8" y="53.4" width="2.2" height="4"/>
<rect x="498.8" y="1406" width="2.2" height="4.5"/><rect x="498.8" y="1418.7" width="2.2" height="4.8"/>
<rect x="523.0" y="39" width="2.2" height="4.6"/><rect x="523.0" y="53.4" width="2.2" height="4"/>
<rect x="523.0" y="1406" width="2.2" height="4.5"/><rect x="523.0" y="1418.7" width="2.2" height="4.8"/>
<rect x="547.3" y="39" width="2.2" height="4.6"/><rect x="547.3" y="53.4" width="2.2" height="4"/>
<rect x="547.3" y="1406" width="2.2" height="4.5"/><rect x="547.3" y="1418.7" width="2.2" height="4.8"/>
<rect x="571.5" y="39" width="2.2" height="4.6"/><rect x="571.5" y="53.4" width="2.2" height="4"/>
<rect x="571.5" y="1406" width="2.2" height="4.5"/><rect x="571.5" y="1418.7" width="2.2" height="4.8"/>
<rect x="595.8" y="39" width="2.2" height="4.6"/><rect x="595.8" y="53.4" width="2.2" height="4"/>
<rect x="595.8" y="1406" width="2.2" height="4.5"/><rect x="595.8" y="1418.7" width="2.2" height="4.8"/>
<rect x="620.0" y="39" width="2.2" height="4.6"/><rect x="620.0" y="53.4" width="2.2" height="4"/>
<rect x="620.0" y="1406" width="2.2" height="4.5"/><rect x="620.0" y="1418.7" width="2.2" height="4.8"/>
<rect x="644.3" y="39" width="2.2" height="4.6"/><rect x="644.3" y="53.4" width="2.2" height="4"/>
<rect x="644.3" y="1406" width="2.2" height="4.5"/><rect x="644.3" y="1418.7" width="2.2" height="4.8"/>
<rect x="668.6" y="39" width="2.2" height="4.6"/><rect x="668.6" y="53.4" width="2.2" height="4"/>
<rect x="668.6" y="1406" width="2.2" height="4.5"/><rect x="668.6" y="1418.7" width="2.2" height="4.8"/>
<rect x="692.8" y="39" width="2.2" height="4.6"/><rect x="692.8" y="53.4" width="2.2" height="4"/>
<rect x="692.8" y="1406" width="2.2" height="4.5"/><rect x="692.8" y="1418.7" width="2.2" height="4.8"/>
<rect x="717.1" y="39" width="2.2" height="4.6"/><rect x="717.1" y="53.4" width="2.2" height="4"/>
<rect x="717.1" y="1406" width="2.2" height="4.5"/><rect x="717.1" y="1418.7" width="2.2" height="4.8"/>
<rect x="741.3" y="39" width="2.2" height="4.6"/><rect x="741.3" y="53.4" width="2.2" height="4"/>
<rect x="741.3" y="1406" width="2.2" height="4.5"/><rect x="741.3" y="1418.7" width="2.2" height="4.8"/>
<rect x="765.6" y="39" width="2.2" height="4.6"/><rect x="765.6" y="53.4" width="2.2" height="4"/>
<rect x="765.6" y="1406" width="2.2" height="4.5"/><rect x="765.6" y="1418.7" width="2.2" height="4.8"/>
<rect x="789.8" y="39" width="2.2" height="4.6"/><rect x="789.8" y="53.4" width="2.2" height="4"/>
<rect x="789.8" y="1406" width="2.2" height="4.5"/><rect x="789.8" y="1418.7" width="2.2" height="4.8"/>
<rect x="814.1" y="39" width="2.2" height="4.6"/><rect x="814.1" y="53.4" width="2.2" height="4"/>
<rect x="814.1" y="1406" width="2.2" height="4.5"/><rect x="814.1" y="1418.7" width="2.2" height="4.8"/>
<rect x="838.4" y="39" width="2.2" height="4.6"/><rect x="838.4" y="53.4" width="2.2" height="4"/>
<rect x="838.4" y="1406" width="2.2" height="4.5"/><rect x="838.4" y="1418.7" width="2.2" height="4.8"/>
<rect x="862.6" y="39" width="2.2" height="4.6"/><rect x="862.6" y="53.4" width="2.2" height="4"/>
<rect x="862.6" y="1406" width="2.2" height="4.5"/><rect x="862.6" y="1418.7" width="2.2" height="4.8"/>
<rect x="886.9" y="39" width="2.2" height="4.6"/><rect x="886.9" y="53.4" width="2.2" height="4"/>
<rect x="886.9" y="1406" width="2.2" height="4.5"/><rect x="886.9" y="1418.7" width="2.2" height="4.8"/>
<rect x="911.1" y="39" width="2.2" height="4.6"/><rect x="911.1" y="53.4" width="2.2" height="4"/>
<rect x="911.1" y="1406" width="2.2" height="4.5"/><rect x="911.1" y="1418.7" width="2.2" height="4.8"/>
<rect x="935.4" y="39" width="2.2" height="4.6"/><rect x="935.4" y="53.4" width="2.2" height="4"/>
<rect x="935.4" y="1406" width="2.2" height="4.5"/><rect x="935.4" y="1418.7" width="2.2" height="4.8"/>
<rect x="959.6" y="39" width="2.2" height="4.6"/><rect x="959.6" y="53.4" width="2.2" height="4"/>
<rect x="959.6" y="1406" width="2.2" height="4.5"/><rect x="959.6" y="1418.7" width="2.2" height="4.8"/>
<rect x="983.9" y="39" width="2.2" height="4.6"/><rect x="983.9" y="53.4" width="2.2" height="4"/>
<rect x="983.9" y="1406" width="2.2" height="4.5"/><rect x="983.9" y="1418.7" width="2.2" height="4.8"/>
<rect x="1008.2" y="39" width="2.2" height="4.6"/><rect x="1008.2" y="53.4" width="2.2" height="4"/>
<rect x="1008.2" y="1406" width="2.2" height="4.5"/><rect x="1008.2" y="1418.7" width="2.2" height="4.8"/>
<rect x="1032.4" y="39" width="2.2" height="4.6"/><rect x="1032.4" y="53.4" width="2.2" height="4"/>
<rect x="1032.4" y="1406" width="2.2" height="4.5"/><rect x="1032.4" y="1418.7" width="2.2" height="4.8"/>
<rect x="1056.7" y="39" width="2.2" height="4.6"/><rect x="1056.7" y="53.4" width="2.2" height="4"/>
<rect x="1056.7" y="1406" width="2.2" height="4.5"/><rect x="1056.7" y="1418.7" width="2.2" height="4.8"/>
<rect x="1080.9" y="39" width="2.2" height="4.6"/><rect x="1080.9" y="53.4" width="2.2" height="4"/>
<rect x="1080.9" y="1406" width="2.2" height="4.5"/><rect x="1080.9" y="1418.7" width="2.2" height="4.8"/>
<rect x="1105.2" y="39" width="2.2" height="4.6"/><rect x="1105.2" y="53.4" width="2.2" height="4"/>
<rect x="1105.2" y="1406" width="2.2" height="4.5"/><rect x="1105.2" y="1418.7" width="2.2" height="4.8"/>
<rect x="1129.4" y="39" width="2.2" height="4.6"/><rect x="1129.4" y="53.4" width="2.2" height="4"/>
<rect x="1129.4" y="1406" width="2.2" height="4.5"/><rect x="1129.4" y="1418.7" width="2.2" height="4.8"/>
<rect x="1153.7" y="39" width="2.2" height="4.6"/><rect x="1153.7" y="53.4" width="2.2" height="4"/>
<rect x="1153.7" y="1406" width="2.2" height="4.5"/><rect x="1153.7" y="1418.7" width="2.2" height="4.8"/>
<rect x="1178.0" y="39" width="2.2" height="4.6"/><rect x="1178.0" y="53.4" width="2.2" height="4"/>
<rect x="1178.0" y="1406" width="2.2" height="4.5"/><rect x="1178.0" y="1418.7" width="2.2" height="4.8"/>
<rect x="1202.2" y="39" width="2.2" height="4.6"/><rect x="1202.2" y="53.4" width="2.2" height="4"/>
<rect x="1202.2" y="1406" width="2.2" height="4.5"/><rect x="1202.2" y="1418.7" width="2.2" height="4.8"/>
<rect x="1226.5" y="39" width="2.2" height="4.6"/><rect x="1226.5" y="53.4" width="2.2" height="4"/>
<rect x="1226.5" y="1406" width="2.2" height="4.5"/><rect x="1226.5" y="1418.7" width="2.2" height="4.8"/>
<rect x="1250.7" y="39" width="2.2" height="4.6"/><rect x="1250.7" y="53.4" width="2.2" height="4"/>
<rect x="1250.7" y="1406" width="2.2" height="4.5"/><rect x="1250.7" y="1418.7" width="2.2" height="4.8"/>
<rect x="1275.0" y="39" width="2.2" height="4.6"/><rect x="1275.0" y="53.4" width="2.2" height="4"/>
<rect x="1275.0" y="1406" width="2.2" height="4.5"/><rect x="1275.0" y="1418.7" width="2.2" height="4.8"/>
<rect x="1299.2" y="39" width="2.2" height="4.6"/><rect x="1299.2" y="53.4" width="2.2" height="4"/>
<rect x="1299.2" y="1406" width="2.2" height="4.5"/><rect x="1299.2" y="1418.7" width="2.2" height="4.8"/>
<rect x="1323.5" y="39" width="2.2" height="4.6"/><rect x="1323.5" y="53.4" width="2.2" height="4"/>
<rect x="1323.5" y="1406" width="2.2" height="4.5"/><rect x="1323.5" y="1418.7" width="2.2" height="4.8"/>
<rect x="1347.8" y="39" width="2.2" height="4.6"/><rect x="1347.8" y="53.4" width="2.2" height="4"/>
<rect x="1347.8" y="1406" width="2.2" height="4.5"/><rect x="1347.8" y="1418.7" width="2.2" height="4.8"/>
<rect x="1372.0" y="39" width="2.2" height="4.6"/><rect x="1372.0" y="53.4" width="2.2" height="4"/>
<rect x="1372.0" y="1406" width="2.2" height="4.5"/><rect x="1372.0" y="1418.7" width="2.2" height="4.8"/>
<rect x="1396.3" y="39" width="2.2" height="4.6"/><rect x="1396.3" y="53.4" width="2.2" height="4"/>
<rect x="1396.3" y="1406" width="2.2" height="4.5"/><rect x="1396.3" y="1418.7" width="2.2" height="4.8"/>
<rect x="1420.5" y="39" width="2.2" height="4.6"/><rect x="1420.5" y="53.4" width="2.2" height="4"/>
<rect x="1420.5" y="1406" width="2.2" height="4.5"/><rect x="1420.5" y="1418.7" width="2.2" height="4.8"/>
<rect x="1444.8" y="39" width="2.2" height="4.6"/><rect x="1444.8" y="53.4" width="2.2" height="4"/>
<rect x="1444.8" y="1406" width="2.2" height="4.5"/><rect x="1444.8" y="1418.7" width="2.2" height="4.8"/>
<rect x="1469.0" y="39" width="2.2" height="4.6"/><rect x="1469.0" y="53.4" width="2.2" height="4"/>
<rect x="1469.0" y="1406" width="2.2" height="4.5"/><rect x="1469.0" y="1418.7" width="2.2" height="4.8"/>
<rect x="1493.3" y="39" width="2.2" height="4.6"/><rect x="1493.3" y="53.4" width="2.2" height="4"/>
<rect x="1493.3" y="1406" width="2.2" height="4.5"/><rect x="1493.3" y="1418.7" width="2.2" height="4.8"/>
<rect x="1517.5" y="39" width="2.2" height="4.6"/><rect x="1517.5" y="53.4" width="2.2" height="4"/>
<rect x="1517.5" y="1406" width="2.2" height="4.5"/><rect x="1517.5" y="1418.7" width="2.2" height="4.8"/>
<rect x="1541.8" y="39" width="2.2" height="4.6"/><rect x="1541.8" y="53.4" width="2.2" height="4"/>
<rect x="1541.8" y="1406" width="2.2" height="4.5"/><rect x="1541.8" y="1418.7" width="2.2" height="4.8"/>
<rect x="1566.1" y="39" width="2.2" height="4.6"/><rect x="1566.1" y="53.4" width="2.2" height="4"/>
<rect x="1566.1" y="1406" width="2.2" height="4.5"/><rect x="1566.1" y="1418.7" width="2.2" height="4.8"/>
<rect x="1590.3" y="39" width="2.2" height="4.6"/><rect x="1590.3" y="53.4" width="2.2" height="4"/>
<rect x="1590.3" y="1406" width="2.2" height="4.5"/><rect x="1590.3" y="1418.7" width="2.2" height="4.8"/>
<rect x="1614.6" y="39" width="2.2" height="4.6"/><rect x="1614.6" y="53.4" width="2.2" height="4"/>
<rect x="1614.6" y="1406" width="2.2" height="4.5"/><rect x="1614.6" y="1418.7" width="2.2" height="4.8"/>
<rect x="1638.8" y="39" width="2.2" height="4.6"/><rect x="1638.8" y="53.4" width="2.2" height="4"/>
<rect x="1638.8" y="1406" width="2.2" height="4.5"/><rect x="1638.8" y="1418.7" width="2.2" height="4.8"/>
<rect x="1663.1" y="39" width="2.2" height="4.6"/><rect x="1663.1" y="53.4" width="2.2" height="4"/>
<rect x="1663.1" y="1406" width="2.2" height="4.5"/><rect x="1663.1" y="1418.7" width="2.2" height="4.8"/>
<rect x="1687.3" y="39" width="2.2" height="4.6"/><rect x="1687.3" y="53.4" width="2.2" height="4"/>
<rect x="1687.3" y="1406" width="2.2" height="4.5"/><rect x="1687.3" y="1418.7" width="2.2" height="4.8"/>
<rect x="1711.6" y="39" width="2.2" height="4.6"/><rect x="1711.6" y="53.4" width="2.2" height="4"/>
<rect x="1711.6" y="1406" width="2.2" height="4.5"/><rect x="1711.6" y="1418.7" width="2.2" height="4.8"/>
<rect x="1735.9" y="39" width="2.2" height="4.6"/><rect x="1735.9" y="53.4" width="2.2" height="4"/>
<rect x="1735.9" y="1406" width="2.2" height="4.5"/><rect x="1735.9" y="1418.7" width="2.2" height="4.8"/>
<rect x="1760.1" y="39" width="2.2" height="4.6"/><rect x="1760.1" y="53.4" width="2.2" height="4"/>
<rect x="1760.1" y="1406" width="2.2" height="4.5"/><rect x="1760.1" y="1418.7" width="2.2" height="4.8"/>
<rect x="1784.4" y="39" width="2.2" height="4.6"/><rect x="1784.4" y="53.4" width="2.2" height="4"/>
<rect x="1784.4" y="1406" width="2.2" height="4.5"/><rect x="1784.4" y="1418.7" width="2.2" height="4.8"/>
<rect x="1808.6" y="39" width="2.2" height="4.6"/><rect x="1808.6" y="53.4" width="2.2" height="4"/>
<rect x="1808.6" y="1406" width="2.2" height="4.5"/><rect x="1808.6" y="1418.7" width="2.2" height="4.8"/>
<rect x="1832.9" y="39" width="2.2" height="4.6"/><rect x="1832.9" y="53.4" width="2.2" height="4"/>
<rect x="1832.9" y="1406" width="2.2" height="4.5"/><rect x="1832.9" y="1418.7" width="2.2" height="4.8"/>
<rect x="1857.1" y="39" width="2.2" height="4.6"/><rect x="1857.1" y="53.4" width="2.2" height="4"/>
<rect x="1857.1" y="1406" width="2.2" height="4.5"/><rect x="1857.1" y="1418.7" width="2.2" height="4.8"/>
<rect x="1881.4" y="39" width="2.2" height="4.6"/><rect x="1881.4" y="53.4" width="2.2" height="4"/>
<rect x="1881.4" y="1406" width="2.2" height="4.5"/><rect x="1881.4" y="1418.7" width="2.2" height="4.8"/>
<rect x="1905.7" y="39" width="2.2" height="4.6"/><rect x="1905.7" y="53.4" width="2.2" height="4"/>
<rect x="1905.7" y="1406" width="2.2" height="4.5"/><rect x="1905.7" y="1418.7" width="2.2" height="4.8"/>
<rect x="1929.9" y="39" width="2.2" height="4.6"/><rect x="1929.9" y="53.4" width="2.2" height="4"/>
<rect x="1929.9" y="1406" width="2.2" height="4.5"/><rect x="1929.9" y="1418.7" width="2.2" height="4.8"/>
<rect x="1954.2" y="39" width="2.2" height="4.6"/><rect x="1954.2" y="53.4" width="2.2" height="4"/>
<rect x="1954.2" y="1406" width="2.2" height="4.5"/><rect x="1954.2" y="1418.7" width="2.2" height="4.8"/>
<rect x="1978.4" y="39" width="2.2" height="4.6"/><rect x="1978.4" y="53.4" width="2.2" height="4"/>
<rect x="1978.4" y="1406" width="2.2" height="4.5"/><rect x="1978.4" y="1418.7" width="2.2" height="4.8"/>
<rect x="2002.7" y="39" width="2.2" height="4.6"/><rect x="2002.7" y="53.4" width="2.2" height="4"/>
<rect x="2002.7" y="1406" width="2.2" height="4.5"/><rect x="2002.7" y="1418.7" width="2.2" height="4.8"/>
<rect x="2026.9" y="39" width="2.2" height="4.6"/><rect x="2026.9" y="53.4" width="2.2" height="4"/>
<rect x="2026.9" y="1406" width="2.2" height="4.5"/><rect x="2026.9" y="1418.7" width="2.2" height="4.8"/>
<rect x="2051.2" y="39" width="2.2" height="4.6"/><rect x="2051.2" y="53.4" width="2.2" height="4"/>
<rect x="2051.2" y="1406" width="2.2" height="4.5"/><rect x="2051.2" y="1418.7" width="2.2" height="4.8"/>
<rect x="2075.5" y="39" width="2.2" height="4.6"/><rect x="2075.5" y="53.4" width="2.2" height="4"/>
<rect x="2075.5" y="1406" width="2.2" height="4.5"/><rect x="2075.5" y="1418.7" width="2.2" height="4.8"/>
<rect x="2099.7" y="39" width="2.2" height="4.6"/><rect x="2099.7" y="53.4" width="2.2" height="4"/>
<rect x="2099.7" y="1406" width="2.2" height="4.5"/><rect x="2099.7" y="1418.7" width="2.2" height="4.8"/>
<rect x="2124.0" y="39" width="2.2" height="4.6"/><rect x="2124.0" y="53.4" width="2.2" height="4"/>
<rect x="2124.0" y="1406" width="2.2" height="4.5"/><rect x="2124.0" y="1418.7" width="2.2" height="4.8"/>
<rect x="2148.2" y="39" width="2.2" height="4.6"/><rect x="2148.2" y="53.4" width="2.2" height="4"/>
<rect x="2148.2" y="1406" width="2.2" height="4.5"/><rect x="2148.2" y="1418.7" width="2.2" height="4.8"/>
<rect x="2172.5" y="39" width="2.2" height="4.6"/><rect x="2172.5" y="53.4" width="2.2" height="4"/>
<rect x="2172.5" y="1406" width="2.2" height="4.5"/><rect x="2172.5" y="1418.7" width="2.2" height="4.8"/>
<rect x="2196.7" y="39" width="2.2" height="4.6"/><rect x="2196.7" y="53.4" width="2.2" height="4"/>
<rect x="2196.7" y="1406" width="2.2" height="4.5"/><rect x="2196.7" y="1418.7" width="2.2" height="4.8"/>
<rect x="2221.0" y="39" width="2.2" height="4.6"/><rect x="2221.0" y="53.4" width="2.2" height="4"/>
<rect x="2221.0" y="1406" width="2.2" height="4.5"/><rect x="2221.0" y="1418.7" width="2.2" height="4.8"/>
<rect x="2245.3" y="39" width="2.2" height="4.6"/><rect x="2245.3" y="53.4" width="2.2" height="4"/>
<rect x="2245.3" y="1406" width="2.2" height="4.5"/><rect x="2245.3" y="1418.7" width="2.2" height="4.8"/>
<rect x="2269.5" y="39" width="2.2" height="4.6"/><rect x="2269.5" y="53.4" width="2.2" height="4"/>
<rect x="2269.5" y="1406" width="2.2" height="4.5"/><rect x="2269.5" y="1418.7" width="2.2" height="4.8"/>
<rect x="2293.8" y="39" width="2.2" height="4.6"/><rect x="2293.8" y="53.4" width="2.2" height="4"/>
<rect x="2293.8" y="1406" width="2.2" height="4.5"/><rect x="2293.8" y="1418.7" width="2.2" height="4.8"/>
<rect x="2318.0" y="39" width="2.2" height="4.6"/><rect x="2318.0" y="53.4" width="2.2" height="4"/>
<rect x="2318.0" y="1406" width="2.2" height="4.5"/><rect x="2318.0" y="1418.7" width="2.2" height="4.8"/>
<rect x="2342.3" y="39" width="2.2" height="4.6"/><rect x="2342.3" y="53.4" width="2.2" height="4"/>
<rect x="2342.3" y="1406" width="2.2" height="4.5"/><rect x="2342.3" y="1418.7" width="2.2" height="4.8"/>
<rect x="2366.5" y="39" width="2.2" height="4.6"/><rect x="2366.5" y="53.4" width="2.2" height="4"/>
<rect x="2366.5" y="1406" width="2.2" height="4.5"/><rect x="2366.5" y="1418.7" width="2.2" height="4.8"/>
<rect x="2390.8" y="39" width="2.2" height="4.6"/><rect x="2390.8" y="53.4" width="2.2" height="4"/>
<rect x="2390.8" y="1406" width="2.2" height="4.5"/><rect x="2390.8" y="1418.7" width="2.2" height="4.8"/>
<rect x="2415.1" y="39" width="2.2" height="4.6"/><rect x="2415.1" y="53.4" width="2.2" height="4"/>
<rect x="2415.1" y="1406" width="2.2" height="4.5"/><rect x="2415.1" y="1418.7" width="2.2" height="4.8"/>
<rect x="2439.3" y="39" width="2.2" height="4.6"/><rect x="2439.3" y="53.4" width="2.2" height="4"/>
<rect x="2439.3" y="1406" width="2.2" height="4.5"/><rect x="2439.3" y="1418.7" width="2.2" height="4.8"/>
<rect x="2463.6" y="39" width="2.2" height="4.6"/><rect x="2463.6" y="53.4" width="2.2" height="4"/>
<rect x="2463.6" y="1406" width="2.2" height="4.5"/><rect x="2463.6" y="1418.7" width="2.2" height="4.8"/>
<rect x="2487.8" y="39" width="2.2" height="4.6"/><rect x="2487.8" y="53.4" width="2.2" height="4"/>
<rect x="2487.8" y="1406" width="2.2" height="4.5"/><rect x="2487.8" y="1418.7" width="2.2" height="4.8"/>
</g>
<text x="148.1" y="53.0" font-size="11.6" fill="#8c8c8c" text-anchor="middle" textLength="13.6" lengthAdjust="spacingAndGlyphs">26</text>
<text x="148.1" y="1419.6" font-size="11.6" fill="#8c8c8c" text-anchor="middle" textLength="13.6" lengthAdjust="spacingAndGlyphs">26</text>
<text x="172.4" y="53.0" font-size="11.6" fill="#8c8c8c" text-anchor="middle" textLength="13.6" lengthAdjust="spacingAndGlyphs">27</text>
<text x="172.4" y="1419.6" font-size="11.6" fill="#8c8c8c" text-anchor="middle" textLength="13.6" lengthAdjust="spacingAndGlyphs">27</text>
<text x="196.6" y="53.0" font-size="11.6" fill="#8c8c8c" text-anchor="middle" textLength="13.6" lengthAdjust="spacingAndGlyphs">28</text>
<text x="196.6" y="1419.6" font-size="11.6" fill="#8c8c8c" text-anchor="middle" textLength="13.6" lengthAdjust="spacingAndGlyphs">28</text>
<text x="220.9" y="53.0" font-size="11.6" fill="#8c8c8c" text-anchor="middle" textLength="13.6" lengthAdjust="spacingAndGlyphs">29</text>
<text x="220.9" y="1419.6" font-size="11.6" fill="#8c8c8c" text-anchor="middle" textLength="13.6" lengthAdjust="spacingAndGlyphs">29</text>
<text x="245.2" y="53.3" font-size="13.2" fill="#6b6b6b" font-weight="bold" text-anchor="middle" textLength="17.2" lengthAdjust="spacingAndGlyphs">30</text>
<text x="245.2" y="1420.0" font-size="13.2" fill="#6b6b6b" font-weight="bold" text-anchor="middle" textLength="17.2" lengthAdjust="spacingAndGlyphs">30</text>
<text x="269.4" y="53.0" font-size="11.6" fill="#8c8c8c" text-anchor="middle" textLength="11.5" lengthAdjust="spacingAndGlyphs">31</text>
<text x="269.4" y="1419.6" font-size="11.6" fill="#8c8c8c" text-anchor="middle" textLength="11.5" lengthAdjust="spacingAndGlyphs">31</text>
<text x="293.7" y="53.0" font-size="11.6" fill="#8c8c8c" text-anchor="middle" textLength="13.6" lengthAdjust="spacingAndGlyphs">32</text>
<text x="293.7" y="1419.6" font-size="11.6" fill="#8c8c8c" text-anchor="middle" textLength="13.6" lengthAdjust="spacingAndGlyphs">32</text>
<text x="317.9" y="53.0" font-size="11.6" fill="#8c8c8c" text-anchor="middle" textLength="13.6" lengthAdjust="spacingAndGlyphs">33</text>
<text x="317.9" y="1419.6" font-size="11.6" fill="#8c8c8c" text-anchor="middle" textLength="13.6" lengthAdjust="spacingAndGlyphs">33</text>
<text x="342.2" y="53.0" font-size="11.6" fill="#8c8c8c" text-anchor="middle" textLength="13.6" lengthAdjust="spacingAndGlyphs">34</text>
<text x="342.2" y="1419.6" font-size="11.6" fill="#8c8c8c" text-anchor="middle" textLength="13.6" lengthAdjust="spacingAndGlyphs">34</text>
<text x="366.4" y="53.0" font-size="11.6" fill="#8c8c8c" text-anchor="middle" textLength="13.6" lengthAdjust="spacingAndGlyphs">35</text>
<text x="366.4" y="1419.6" font-size="11.6" fill="#8c8c8c" text-anchor="middle" textLength="13.6" lengthAdjust="spacingAndGlyphs">35</text>
<text x="390.7" y="53.0" font-size="11.6" fill="#8c8c8c" text-anchor="middle" textLength="13.6" lengthAdjust="spacingAndGlyphs">36</text>
<text x="390.7" y="1419.6" font-size="11.6" fill="#8c8c8c" text-anchor="middle" textLength="13.6" lengthAdjust="spacingAndGlyphs">36</text>
<text x="415.0" y="53.0" font-size="11.6" fill="#8c8c8c" text-anchor="middle" textLength="13.6" lengthAdjust="spacingAndGlyphs">37</text>
<text x="415.0" y="1419.6" font-size="11.6" fill="#8c8c8c" text-anchor="middle" textLength="13.6" lengthAdjust="spacingAndGlyphs">37</text>
<text x="439.2" y="53.0" font-size="11.6" fill="#8c8c8c" text-anchor="middle" textLength="13.6" lengthAdjust="spacingAndGlyphs">38</text>
<text x="439.2" y="1419.6" font-size="11.6" fill="#8c8c8c" text-anchor="middle" textLength="13.6" lengthAdjust="spacingAndGlyphs">38</text>
<text x="463.5" y="53.0" font-size="11.6" fill="#8c8c8c" text-anchor="middle" textLength="13.6" lengthAdjust="spacingAndGlyphs">39</text>
<text x="463.5" y="1419.6" font-size="11.6" fill="#8c8c8c" text-anchor="middle" textLength="13.6" lengthAdjust="spacingAndGlyphs">39</text>
<text x="487.7" y="53.3" font-size="13.2" fill="#6b6b6b" font-weight="bold" text-anchor="middle" textLength="17.2" lengthAdjust="spacingAndGlyphs">40</text>
<text x="487.7" y="1420.0" font-size="13.2" fill="#6b6b6b" font-weight="bold" text-anchor="middle" textLength="17.2" lengthAdjust="spacingAndGlyphs">40</text>
<text x="512.0" y="53.0" font-size="11.6" fill="#8c8c8c" text-anchor="middle" textLength="11.5" lengthAdjust="spacingAndGlyphs">41</text>
<text x="512.0" y="1419.6" font-size="11.6" fill="#8c8c8c" text-anchor="middle" textLength="11.5" lengthAdjust="spacingAndGlyphs">41</text>
<text x="536.2" y="53.0" font-size="11.6" fill="#8c8c8c" text-anchor="middle" textLength="13.6" lengthAdjust="spacingAndGlyphs">42</text>
<text x="536.2" y="1419.6" font-size="11.6" fill="#8c8c8c" text-anchor="middle" textLength="13.6" lengthAdjust="spacingAndGlyphs">42</text>
<text x="560.5" y="53.0" font-size="11.6" fill="#8c8c8c" text-anchor="middle" textLength="13.6" lengthAdjust="spacingAndGlyphs">43</text>
<text x="560.5" y="1419.6" font-size="11.6" fill="#8c8c8c" text-anchor="middle" textLength="13.6" lengthAdjust="spacingAndGlyphs">43</text>
<text x="584.8" y="53.0" font-size="11.6" fill="#8c8c8c" text-anchor="middle" textLength="13.6" lengthAdjust="spacingAndGlyphs">44</text>
<text x="584.8" y="1419.6" font-size="11.6" fill="#8c8c8c" text-anchor="middle" textLength="13.6" lengthAdjust="spacingAndGlyphs">44</text>
<text x="609.0" y="53.0" font-size="11.6" fill="#8c8c8c" text-anchor="middle" textLength="13.6" lengthAdjust="spacingAndGlyphs">45</text>
<text x="609.0" y="1419.6" font-size="11.6" fill="#8c8c8c" text-anchor="middle" textLength="13.6" lengthAdjust="spacingAndGlyphs">45</text>
<text x="633.3" y="53.0" font-size="11.6" fill="#8c8c8c" text-anchor="middle" textLength="13.6" lengthAdjust="spacingAndGlyphs">46</text>
<text x="633.3" y="1419.6" font-size="11.6" fill="#8c8c8c" text-anchor="middle" textLength="13.6" lengthAdjust="spacingAndGlyphs">46</text>
<text x="657.5" y="53.0" font-size="11.6" fill="#8c8c8c" text-anchor="middle" textLength="13.6" lengthAdjust="spacingAndGlyphs">47</text>
<text x="657.5" y="1419.6" font-size="11.6" fill="#8c8c8c" text-anchor="middle" textLength="13.6" lengthAdjust="spacingAndGlyphs">47</text>
<text x="681.8" y="53.0" font-size="11.6" fill="#8c8c8c" text-anchor="middle" textLength="13.6" lengthAdjust="spacingAndGlyphs">48</text>
<text x="681.8" y="1419.6" font-size="11.6" fill="#8c8c8c" text-anchor="middle" textLength="13.6" lengthAdjust="spacingAndGlyphs">48</text>
<text x="706.0" y="53.0" font-size="11.6" fill="#8c8c8c" text-anchor="middle" textLength="13.6" lengthAdjust="spacingAndGlyphs">49</text>
<text x="706.0" y="1419.6" font-size="11.6" fill="#8c8c8c" text-anchor="middle" textLength="13.6" lengthAdjust="spacingAndGlyphs">49</text>
<text x="730.3" y="53.3" font-size="13.2" fill="#6b6b6b" font-weight="bold" text-anchor="middle" textLength="17.2" lengthAdjust="spacingAndGlyphs">50</text>
<text x="730.3" y="1420.0" font-size="13.2" fill="#6b6b6b" font-weight="bold" text-anchor="middle" textLength="17.2" lengthAdjust="spacingAndGlyphs">50</text>
<text x="754.6" y="53.0" font-size="11.6" fill="#8c8c8c" text-anchor="middle" textLength="11.5" lengthAdjust="spacingAndGlyphs">51</text>
<text x="754.6" y="1419.6" font-size="11.6" fill="#8c8c8c" text-anchor="middle" textLength="11.5" lengthAdjust="spacingAndGlyphs">51</text>
<text x="778.8" y="53.0" font-size="11.6" fill="#8c8c8c" text-anchor="middle" textLength="13.6" lengthAdjust="spacingAndGlyphs">52</text>
<text x="778.8" y="1419.6" font-size="11.6" fill="#8c8c8c" text-anchor="middle" textLength="13.6" lengthAdjust="spacingAndGlyphs">52</text>
<text x="803.1" y="53.0" font-size="11.6" fill="#8c8c8c" text-anchor="middle" textLength="13.6" lengthAdjust="spacingAndGlyphs">53</text>
<text x="803.1" y="1419.6" font-size="11.6" fill="#8c8c8c" text-anchor="middle" textLength="13.6" lengthAdjust="spacingAndGlyphs">53</text>
<text x="827.3" y="53.0" font-size="11.6" fill="#8c8c8c" text-anchor="middle" textLength="13.6" lengthAdjust="spacingAndGlyphs">54</text>
<text x="827.3" y="1419.6" font-size="11.6" fill="#8c8c8c" text-anchor="middle" textLength="13.6" lengthAdjust="spacingAndGlyphs">54</text>
<text x="851.6" y="53.0" font-size="11.6" fill="#8c8c8c" text-anchor="middle" textLength="13.6" lengthAdjust="spacingAndGlyphs">55</text>
<text x="851.6" y="1419.6" font-size="11.6" fill="#8c8c8c" text-anchor="middle" textLength="13.6" lengthAdjust="spacingAndGlyphs">55</text>
<text x="875.8" y="53.0" font-size="11.6" fill="#8c8c8c" text-anchor="middle" textLength="13.6" lengthAdjust="spacingAndGlyphs">56</text>
<text x="875.8" y="1419.6" font-size="11.6" fill="#8c8c8c" text-anchor="middle" textLength="13.6" lengthAdjust="spacingAndGlyphs">56</text>
<text x="900.1" y="53.0" font-size="11.6" fill="#8c8c8c" text-anchor="middle" textLength="13.6" lengthAdjust="spacingAndGlyphs">57</text>
<text x="900.1" y="1419.6" font-size="11.6" fill="#8c8c8c" text-anchor="middle" textLength="13.6" lengthAdjust="spacingAndGlyphs">57</text>
<text x="924.4" y="53.0" font-size="11.6" fill="#8c8c8c" text-anchor="middle" textLength="13.6" lengthAdjust="spacingAndGlyphs">58</text>
<text x="924.4" y="1419.6" font-size="11.6" fill="#8c8c8c" text-anchor="middle" textLength="13.6" lengthAdjust="spacingAndGlyphs">58</text>
<text x="948.6" y="53.0" font-size="11.6" fill="#8c8c8c" text-anchor="middle" textLength="13.6" lengthAdjust="spacingAndGlyphs">59</text>
<text x="948.6" y="1419.6" font-size="11.6" fill="#8c8c8c" text-anchor="middle" textLength="13.6" lengthAdjust="spacingAndGlyphs">59</text>
<text x="972.9" y="53.3" font-size="13.2" fill="#6b6b6b" font-weight="bold" text-anchor="middle" textLength="17.2" lengthAdjust="spacingAndGlyphs">60</text>
<text x="972.9" y="1420.0" font-size="13.2" fill="#6b6b6b" font-weight="bold" text-anchor="middle" textLength="17.2" lengthAdjust="spacingAndGlyphs">60</text>
<text x="997.1" y="53.0" font-size="11.6" fill="#8c8c8c" text-anchor="middle" textLength="11.5" lengthAdjust="spacingAndGlyphs">61</text>
<text x="997.1" y="1419.6" font-size="11.6" fill="#8c8c8c" text-anchor="middle" textLength="11.5" lengthAdjust="spacingAndGlyphs">61</text>
<text x="1021.4" y="53.0" font-size="11.6" fill="#8c8c8c" text-anchor="middle" textLength="13.6" lengthAdjust="spacingAndGlyphs">62</text>
<text x="1021.4" y="1419.6" font-size="11.6" fill="#8c8c8c" text-anchor="middle" textLength="13.6" lengthAdjust="spacingAndGlyphs">62</text>
<text x="1045.6" y="53.0" font-size="11.6" fill="#8c8c8c" text-anchor="middle" textLength="13.6" lengthAdjust="spacingAndGlyphs">63</text>
<text x="1045.6" y="1419.6" font-size="11.6" fill="#8c8c8c" text-anchor="middle" textLength="13.6" lengthAdjust="spacingAndGlyphs">63</text>
<text x="1069.9" y="53.0" font-size="11.6" fill="#8c8c8c" text-anchor="middle" textLength="13.6" lengthAdjust="spacingAndGlyphs">64</text>
<text x="1069.9" y="1419.6" font-size="11.6" fill="#8c8c8c" text-anchor="middle" textLength="13.6" lengthAdjust="spacingAndGlyphs">64</text>
<text x="1094.2" y="53.0" font-size="11.6" fill="#8c8c8c" text-anchor="middle" textLength="13.6" lengthAdjust="spacingAndGlyphs">65</text>
<text x="1094.2" y="1419.6" font-size="11.6" fill="#8c8c8c" text-anchor="middle" textLength="13.6" lengthAdjust="spacingAndGlyphs">65</text>
<text x="1118.4" y="53.0" font-size="11.6" fill="#8c8c8c" text-anchor="middle" textLength="13.6" lengthAdjust="spacingAndGlyphs">66</text>
<text x="1118.4" y="1419.6" font-size="11.6" fill="#8c8c8c" text-anchor="middle" textLength="13.6" lengthAdjust="spacingAndGlyphs">66</text>
<text x="1142.7" y="53.0" font-size="11.6" fill="#8c8c8c" text-anchor="middle" textLength="13.6" lengthAdjust="spacingAndGlyphs">67</text>
<text x="1142.7" y="1419.6" font-size="11.6" fill="#8c8c8c" text-anchor="middle" textLength="13.6" lengthAdjust="spacingAndGlyphs">67</text>
<text x="1166.9" y="53.0" font-size="11.6" fill="#8c8c8c" text-anchor="middle" textLength="13.6" lengthAdjust="spacingAndGlyphs">68</text>
<text x="1166.9" y="1419.6" font-size="11.6" fill="#8c8c8c" text-anchor="middle" textLength="13.6" lengthAdjust="spacingAndGlyphs">68</text>
<text x="1191.2" y="53.0" font-size="11.6" fill="#8c8c8c" text-anchor="middle" textLength="13.6" lengthAdjust="spacingAndGlyphs">69</text>
<text x="1191.2" y="1419.6" font-size="11.6" fill="#8c8c8c" text-anchor="middle" textLength="13.6" lengthAdjust="spacingAndGlyphs">69</text>
<text x="1215.4" y="53.3" font-size="13.2" fill="#6b6b6b" font-weight="bold" text-anchor="middle" textLength="17.2" lengthAdjust="spacingAndGlyphs">70</text>
<text x="1215.4" y="1420.0" font-size="13.2" fill="#6b6b6b" font-weight="bold" text-anchor="middle" textLength="17.2" lengthAdjust="spacingAndGlyphs">70</text>
<text x="1239.7" y="53.0" font-size="11.6" fill="#8c8c8c" text-anchor="middle" textLength="11.5" lengthAdjust="spacingAndGlyphs">71</text>
<text x="1239.7" y="1419.6" font-size="11.6" fill="#8c8c8c" text-anchor="middle" textLength="11.5" lengthAdjust="spacingAndGlyphs">71</text>
<text x="1264.0" y="53.0" font-size="11.6" fill="#8c8c8c" text-anchor="middle" textLength="13.6" lengthAdjust="spacingAndGlyphs">72</text>
<text x="1264.0" y="1419.6" font-size="11.6" fill="#8c8c8c" text-anchor="middle" textLength="13.6" lengthAdjust="spacingAndGlyphs">72</text>
<text x="1288.2" y="53.0" font-size="11.6" fill="#8c8c8c" text-anchor="middle" textLength="13.6" lengthAdjust="spacingAndGlyphs">73</text>
<text x="1288.2" y="1419.6" font-size="11.6" fill="#8c8c8c" text-anchor="middle" textLength="13.6" lengthAdjust="spacingAndGlyphs">73</text>
<text x="1312.5" y="53.0" font-size="11.6" fill="#8c8c8c" text-anchor="middle" textLength="13.6" lengthAdjust="spacingAndGlyphs">74</text>
<text x="1312.5" y="1419.6" font-size="11.6" fill="#8c8c8c" text-anchor="middle" textLength="13.6" lengthAdjust="spacingAndGlyphs">74</text>
<text x="1336.7" y="53.0" font-size="11.6" fill="#8c8c8c" text-anchor="middle" textLength="13.6" lengthAdjust="spacingAndGlyphs">75</text>
<text x="1336.7" y="1419.6" font-size="11.6" fill="#8c8c8c" text-anchor="middle" textLength="13.6" lengthAdjust="spacingAndGlyphs">75</text>
<text x="1361.0" y="53.0" font-size="11.6" fill="#8c8c8c" text-anchor="middle" textLength="13.6" lengthAdjust="spacingAndGlyphs">76</text>
<text x="1361.0" y="1419.6" font-size="11.6" fill="#8c8c8c" text-anchor="middle" textLength="13.6" lengthAdjust="spacingAndGlyphs">76</text>
<text x="1385.2" y="53.0" font-size="11.6" fill="#8c8c8c" text-anchor="middle" textLength="13.6" lengthAdjust="spacingAndGlyphs">77</text>
<text x="1385.2" y="1419.6" font-size="11.6" fill="#8c8c8c" text-anchor="middle" textLength="13.6" lengthAdjust="spacingAndGlyphs">77</text>
<text x="1409.5" y="53.0" font-size="11.6" fill="#8c8c8c" text-anchor="middle" textLength="13.6" lengthAdjust="spacingAndGlyphs">78</text>
<text x="1409.5" y="1419.6" font-size="11.6" fill="#8c8c8c" text-anchor="middle" textLength="13.6" lengthAdjust="spacingAndGlyphs">78</text>
<text x="1433.8" y="53.0" font-size="11.6" fill="#8c8c8c" text-anchor="middle" textLength="13.6" lengthAdjust="spacingAndGlyphs">79</text>
<text x="1433.8" y="1419.6" font-size="11.6" fill="#8c8c8c" text-anchor="middle" textLength="13.6" lengthAdjust="spacingAndGlyphs">79</text>
<text x="1458.0" y="53.3" font-size="13.2" fill="#6b6b6b" font-weight="bold" text-anchor="middle" textLength="17.2" lengthAdjust="spacingAndGlyphs">80</text>
<text x="1458.0" y="1420.0" font-size="13.2" fill="#6b6b6b" font-weight="bold" text-anchor="middle" textLength="17.2" lengthAdjust="spacingAndGlyphs">80</text>
<text x="1482.3" y="53.0" font-size="11.6" fill="#8c8c8c" text-anchor="middle" textLength="11.5" lengthAdjust="spacingAndGlyphs">81</text>
<text x="1482.3" y="1419.6" font-size="11.6" fill="#8c8c8c" text-anchor="middle" textLength="11.5" lengthAdjust="spacingAndGlyphs">81</text>
<text x="1506.5" y="53.0" font-size="11.6" fill="#8c8c8c" text-anchor="middle" textLength="13.6" lengthAdjust="spacingAndGlyphs">82</text>
<text x="1506.5" y="1419.6" font-size="11.6" fill="#8c8c8c" text-anchor="middle" textLength="13.6" lengthAdjust="spacingAndGlyphs">82</text>
<text x="1530.8" y="53.0" font-size="11.6" fill="#8c8c8c" text-anchor="middle" textLength="13.6" lengthAdjust="spacingAndGlyphs">83</text>
<text x="1530.8" y="1419.6" font-size="11.6" fill="#8c8c8c" text-anchor="middle" textLength="13.6" lengthAdjust="spacingAndGlyphs">83</text>
<text x="1555.0" y="53.0" font-size="11.6" fill="#8c8c8c" text-anchor="middle" textLength="13.6" lengthAdjust="spacingAndGlyphs">84</text>
<text x="1555.0" y="1419.6" font-size="11.6" fill="#8c8c8c" text-anchor="middle" textLength="13.6" lengthAdjust="spacingAndGlyphs">84</text>
<text x="1579.3" y="53.0" font-size="11.6" fill="#8c8c8c" text-anchor="middle" textLength="13.6" lengthAdjust="spacingAndGlyphs">85</text>
<text x="1579.3" y="1419.6" font-size="11.6" fill="#8c8c8c" text-anchor="middle" textLength="13.6" lengthAdjust="spacingAndGlyphs">85</text>
<text x="1603.6" y="53.0" font-size="11.6" fill="#8c8c8c" text-anchor="middle" textLength="13.6" lengthAdjust="spacingAndGlyphs">86</text>
<text x="1603.6" y="1419.6" font-size="11.6" fill="#8c8c8c" text-anchor="middle" textLength="13.6" lengthAdjust="spacingAndGlyphs">86</text>
<text x="1627.8" y="53.0" font-size="11.6" fill="#8c8c8c" text-anchor="middle" textLength="13.6" lengthAdjust="spacingAndGlyphs">87</text>
<text x="1627.8" y="1419.6" font-size="11.6" fill="#8c8c8c" text-anchor="middle" textLength="13.6" lengthAdjust="spacingAndGlyphs">87</text>
<text x="1652.1" y="53.0" font-size="11.6" fill="#8c8c8c" text-anchor="middle" textLength="13.6" lengthAdjust="spacingAndGlyphs">88</text>
<text x="1652.1" y="1419.6" font-size="11.6" fill="#8c8c8c" text-anchor="middle" textLength="13.6" lengthAdjust="spacingAndGlyphs">88</text>
<text x="1676.3" y="53.0" font-size="11.6" fill="#8c8c8c" text-anchor="middle" textLength="13.6" lengthAdjust="spacingAndGlyphs">89</text>
<text x="1676.3" y="1419.6" font-size="11.6" fill="#8c8c8c" text-anchor="middle" textLength="13.6" lengthAdjust="spacingAndGlyphs">89</text>
<text x="1700.6" y="53.3" font-size="13.2" fill="#6b6b6b" font-weight="bold" text-anchor="middle" textLength="17.2" lengthAdjust="spacingAndGlyphs">90</text>
<text x="1700.6" y="1420.0" font-size="13.2" fill="#6b6b6b" font-weight="bold" text-anchor="middle" textLength="17.2" lengthAdjust="spacingAndGlyphs">90</text>
<text x="1724.8" y="53.0" font-size="11.6" fill="#8c8c8c" text-anchor="middle" textLength="11.5" lengthAdjust="spacingAndGlyphs">91</text>
<text x="1724.8" y="1419.6" font-size="11.6" fill="#8c8c8c" text-anchor="middle" textLength="11.5" lengthAdjust="spacingAndGlyphs">91</text>
<text x="1749.1" y="53.0" font-size="11.6" fill="#8c8c8c" text-anchor="middle" textLength="13.6" lengthAdjust="spacingAndGlyphs">92</text>
<text x="1749.1" y="1419.6" font-size="11.6" fill="#8c8c8c" text-anchor="middle" textLength="13.6" lengthAdjust="spacingAndGlyphs">92</text>
<text x="1773.3" y="53.0" font-size="11.6" fill="#8c8c8c" text-anchor="middle" textLength="13.6" lengthAdjust="spacingAndGlyphs">93</text>
<text x="1773.3" y="1419.6" font-size="11.6" fill="#8c8c8c" text-anchor="middle" textLength="13.6" lengthAdjust="spacingAndGlyphs">93</text>
<text x="1797.6" y="53.0" font-size="11.6" fill="#8c8c8c" text-anchor="middle" textLength="13.6" lengthAdjust="spacingAndGlyphs">94</text>
<text x="1797.6" y="1419.6" font-size="11.6" fill="#8c8c8c" text-anchor="middle" textLength="13.6" lengthAdjust="spacingAndGlyphs">94</text>
<text x="1821.9" y="53.0" font-size="11.6" fill="#8c8c8c" text-anchor="middle" textLength="13.6" lengthAdjust="spacingAndGlyphs">95</text>
<text x="1821.9" y="1419.6" font-size="11.6" fill="#8c8c8c" text-anchor="middle" textLength="13.6" lengthAdjust="spacingAndGlyphs">95</text>
<text x="1846.1" y="53.0" font-size="11.6" fill="#8c8c8c" text-anchor="middle" textLength="13.6" lengthAdjust="spacingAndGlyphs">96</text>
<text x="1846.1" y="1419.6" font-size="11.6" fill="#8c8c8c" text-anchor="middle" textLength="13.6" lengthAdjust="spacingAndGlyphs">96</text>
<text x="1870.4" y="53.0" font-size="11.6" fill="#8c8c8c" text-anchor="middle" textLength="13.6" lengthAdjust="spacingAndGlyphs">97</text>
<text x="1870.4" y="1419.6" font-size="11.6" fill="#8c8c8c" text-anchor="middle" textLength="13.6" lengthAdjust="spacingAndGlyphs">97</text>
<text x="1894.6" y="53.0" font-size="11.6" fill="#8c8c8c" text-anchor="middle" textLength="13.6" lengthAdjust="spacingAndGlyphs">98</text>
<text x="1894.6" y="1419.6" font-size="11.6" fill="#8c8c8c" text-anchor="middle" textLength="13.6" lengthAdjust="spacingAndGlyphs">98</text>
<text x="1918.9" y="53.0" font-size="11.6" fill="#8c8c8c" text-anchor="middle" textLength="13.6" lengthAdjust="spacingAndGlyphs">99</text>
<text x="1918.9" y="1419.6" font-size="11.6" fill="#8c8c8c" text-anchor="middle" textLength="13.6" lengthAdjust="spacingAndGlyphs">99</text>
<text x="1943.1" y="53.3" font-size="13.2" fill="#6b6b6b" font-weight="bold" text-anchor="middle" textLength="17.2" lengthAdjust="spacingAndGlyphs">00</text>
<text x="1943.1" y="1420.0" font-size="13.2" fill="#6b6b6b" font-weight="bold" text-anchor="middle" textLength="17.2" lengthAdjust="spacingAndGlyphs">00</text>
<text x="1967.4" y="53.0" font-size="11.6" fill="#8c8c8c" text-anchor="middle" textLength="11.5" lengthAdjust="spacingAndGlyphs">01</text>
<text x="1967.4" y="1419.6" font-size="11.6" fill="#8c8c8c" text-anchor="middle" textLength="11.5" lengthAdjust="spacingAndGlyphs">01</text>
<text x="1991.7" y="53.0" font-size="11.6" fill="#8c8c8c" text-anchor="middle" textLength="13.6" lengthAdjust="spacingAndGlyphs">02</text>
<text x="1991.7" y="1419.6" font-size="11.6" fill="#8c8c8c" text-anchor="middle" textLength="13.6" lengthAdjust="spacingAndGlyphs">02</text>
<text x="2015.9" y="53.0" font-size="11.6" fill="#8c8c8c" text-anchor="middle" textLength="13.6" lengthAdjust="spacingAndGlyphs">03</text>
<text x="2015.9" y="1419.6" font-size="11.6" fill="#8c8c8c" text-anchor="middle" textLength="13.6" lengthAdjust="spacingAndGlyphs">03</text>
<text x="2040.2" y="53.0" font-size="11.6" fill="#8c8c8c" text-anchor="middle" textLength="13.6" lengthAdjust="spacingAndGlyphs">04</text>
<text x="2040.2" y="1419.6" font-size="11.6" fill="#8c8c8c" text-anchor="middle" textLength="13.6" lengthAdjust="spacingAndGlyphs">04</text>
<text x="2064.4" y="53.0" font-size="11.6" fill="#8c8c8c" text-anchor="middle" textLength="13.6" lengthAdjust="spacingAndGlyphs">05</text>
<text x="2064.4" y="1419.6" font-size="11.6" fill="#8c8c8c" text-anchor="middle" textLength="13.6" lengthAdjust="spacingAndGlyphs">05</text>
<text x="2088.7" y="53.0" font-size="11.6" fill="#8c8c8c" text-anchor="middle" textLength="13.6" lengthAdjust="spacingAndGlyphs">06</text>
<text x="2088.7" y="1419.6" font-size="11.6" fill="#8c8c8c" text-anchor="middle" textLength="13.6" lengthAdjust="spacingAndGlyphs">06</text>
<text x="2112.9" y="53.0" font-size="11.6" fill="#8c8c8c" text-anchor="middle" textLength="13.6" lengthAdjust="spacingAndGlyphs">07</text>
<text x="2112.9" y="1419.6" font-size="11.6" fill="#8c8c8c" text-anchor="middle" textLength="13.6" lengthAdjust="spacingAndGlyphs">07</text>
<text x="2137.2" y="53.0" font-size="11.6" fill="#8c8c8c" text-anchor="middle" textLength="13.6" lengthAdjust="spacingAndGlyphs">08</text>
<text x="2137.2" y="1419.6" font-size="11.6" fill="#8c8c8c" text-anchor="middle" textLength="13.6" lengthAdjust="spacingAndGlyphs">08</text>
<text x="2161.5" y="53.0" font-size="11.6" fill="#8c8c8c" text-anchor="middle" textLength="13.6" lengthAdjust="spacingAndGlyphs">09</text>
<text x="2161.5" y="1419.6" font-size="11.6" fill="#8c8c8c" text-anchor="middle" textLength="13.6" lengthAdjust="spacingAndGlyphs">09</text>
<text x="2185.7" y="53.3" font-size="13.2" fill="#6b6b6b" font-weight="bold" text-anchor="middle" textLength="17.2" lengthAdjust="spacingAndGlyphs">10</text>
<text x="2185.7" y="1420.0" font-size="13.2" fill="#6b6b6b" font-weight="bold" text-anchor="middle" textLength="17.2" lengthAdjust="spacingAndGlyphs">10</text>
<text x="2210.0" y="53.0" font-size="11.6" fill="#8c8c8c" text-anchor="middle" textLength="9.5" lengthAdjust="spacingAndGlyphs">11</text>
<text x="2210.0" y="1419.6" font-size="11.6" fill="#8c8c8c" text-anchor="middle" textLength="9.5" lengthAdjust="spacingAndGlyphs">11</text>
<text x="2234.2" y="53.0" font-size="11.6" fill="#8c8c8c" text-anchor="middle" textLength="11.5" lengthAdjust="spacingAndGlyphs">12</text>
<text x="2234.2" y="1419.6" font-size="11.6" fill="#8c8c8c" text-anchor="middle" textLength="11.5" lengthAdjust="spacingAndGlyphs">12</text>
<text x="2258.5" y="53.0" font-size="11.6" fill="#8c8c8c" text-anchor="middle" textLength="11.5" lengthAdjust="spacingAndGlyphs">13</text>
<text x="2258.5" y="1419.6" font-size="11.6" fill="#8c8c8c" text-anchor="middle" textLength="11.5" lengthAdjust="spacingAndGlyphs">13</text>
<text x="2282.7" y="53.0" font-size="11.6" fill="#8c8c8c" text-anchor="middle" textLength="11.5" lengthAdjust="spacingAndGlyphs">14</text>
<text x="2282.7" y="1419.6" font-size="11.6" fill="#8c8c8c" text-anchor="middle" textLength="11.5" lengthAdjust="spacingAndGlyphs">14</text>
<text x="2307.0" y="53.0" font-size="11.6" fill="#8c8c8c" text-anchor="middle" textLength="11.5" lengthAdjust="spacingAndGlyphs">15</text>
<text x="2307.0" y="1419.6" font-size="11.6" fill="#8c8c8c" text-anchor="middle" textLength="11.5" lengthAdjust="spacingAndGlyphs">15</text>
<text x="2331.3" y="53.0" font-size="11.6" fill="#8c8c8c" text-anchor="middle" textLength="11.5" lengthAdjust="spacingAndGlyphs">16</text>
<text x="2331.3" y="1419.6" font-size="11.6" fill="#8c8c8c" text-anchor="middle" textLength="11.5" lengthAdjust="spacingAndGlyphs">16</text>
<text x="2355.5" y="53.0" font-size="11.6" fill="#8c8c8c" text-anchor="middle" textLength="11.5" lengthAdjust="spacingAndGlyphs">17</text>
<text x="2355.5" y="1419.6" font-size="11.6" fill="#8c8c8c" text-anchor="middle" textLength="11.5" lengthAdjust="spacingAndGlyphs">17</text>
<text x="2379.8" y="53.0" font-size="11.6" fill="#8c8c8c" text-anchor="middle" textLength="11.5" lengthAdjust="spacingAndGlyphs">18</text>
<text x="2379.8" y="1419.6" font-size="11.6" fill="#8c8c8c" text-anchor="middle" textLength="11.5" lengthAdjust="spacingAndGlyphs">18</text>
<text x="2404.0" y="53.0" font-size="11.6" fill="#8c8c8c" text-anchor="middle" textLength="11.5" lengthAdjust="spacingAndGlyphs">19</text>
<text x="2404.0" y="1419.6" font-size="11.6" fill="#8c8c8c" text-anchor="middle" textLength="11.5" lengthAdjust="spacingAndGlyphs">19</text>
<text x="2428.3" y="53.3" font-size="13.2" fill="#6b6b6b" font-weight="bold" text-anchor="middle" textLength="17.2" lengthAdjust="spacingAndGlyphs">20</text>
<text x="2428.3" y="1420.0" font-size="13.2" fill="#6b6b6b" font-weight="bold" text-anchor="middle" textLength="17.2" lengthAdjust="spacingAndGlyphs">20</text>
<text x="2452.5" y="53.0" font-size="11.6" fill="#8c8c8c" text-anchor="middle" textLength="11.5" lengthAdjust="spacingAndGlyphs">21</text>
<text x="2452.5" y="1419.6" font-size="11.6" fill="#8c8c8c" text-anchor="middle" textLength="11.5" lengthAdjust="spacingAndGlyphs">21</text>
<text x="2476.8" y="53.0" font-size="11.6" fill="#8c8c8c" text-anchor="middle" textLength="13.6" lengthAdjust="spacingAndGlyphs">22</text>
<text x="2476.8" y="1419.6" font-size="11.6" fill="#8c8c8c" text-anchor="middle" textLength="13.6" lengthAdjust="spacingAndGlyphs">22</text>
<text x="2501.1" y="53.0" font-size="11.6" fill="#8c8c8c" text-anchor="middle" textLength="13.6" lengthAdjust="spacingAndGlyphs">23</text>
<text x="2501.1" y="1419.6" font-size="11.6" fill="#8c8c8c" text-anchor="middle" textLength="13.6" lengthAdjust="spacingAndGlyphs">23</text>
<text x="95.2" y="1419.4" font-size="11.6" fill="#9a9a9a" textLength="27.0" lengthAdjust="spacingAndGlyphs">1925</text>
<g stroke="#8fabd6" stroke-width="2.2" fill="none" stroke-linecap="round" stroke-linejoin="round">
<line x1="134.7" y1="29.8" x2="232.0" y2="29.8" stroke-linecap="butt"/>
<polyline points="227.5,26.0 232.0,29.8 227.5,33.6"/>
</g>
<g stroke="#8fabd6" stroke-width="2.2" fill="none" stroke-linecap="round" stroke-linejoin="round">
<line x1="258.3" y1="29.8" x2="474.6" y2="29.8" stroke-linecap="butt"/>
<polyline points="262.8,26.0 258.3,29.8 262.8,33.6"/>
<polyline points="470.1,26.0 474.6,29.8 470.1,33.6"/>
</g>
<g stroke="#8fabd6" stroke-width="2.2" fill="none" stroke-linecap="round" stroke-linejoin="round">
<line x1="500.9" y1="29.8" x2="717.2" y2="29.8" stroke-linecap="butt"/>
<polyline points="505.4,26.0 500.9,29.8 505.4,33.6"/>
<polyline points="712.7,26.0 717.2,29.8 712.7,33.6"/>
</g>
<g stroke="#8fabd6" stroke-width="2.2" fill="none" stroke-linecap="round" stroke-linejoin="round">
<line x1="743.4" y1="29.8" x2="959.7" y2="29.8" stroke-linecap="butt"/>
<polyline points="747.9,26.0 743.4,29.8 747.9,33.6"/>
<polyline points="955.2,26.0 959.7,29.8 955.2,33.6"/>
</g>
<g stroke="#8fabd6" stroke-width="2.2" fill="none" stroke-linecap="round" stroke-linejoin="round">
<line x1="986.0" y1="29.8" x2="1202.3" y2="29.8" stroke-linecap="butt"/>
<polyline points="990.5,26.0 986.0,29.8 990.5,33.6"/>
<polyline points="1197.8,26.0 1202.3,29.8 1197.8,33.6"/>
</g>
<g stroke="#8fabd6" stroke-width="2.2" fill="none" stroke-linecap="round" stroke-linejoin="round">
<line x1="1228.6" y1="29.8" x2="1444.9" y2="29.8" stroke-linecap="butt"/>
<polyline points="1233.1,26.0 1228.6,29.8 1233.1,33.6"/>
<polyline points="1440.4,26.0 1444.9,29.8 1440.4,33.6"/>
</g>
<g stroke="#8fabd6" stroke-width="2.2" fill="none" stroke-linecap="round" stroke-linejoin="round">
<line x1="1471.1" y1="29.8" x2="1687.4" y2="29.8" stroke-linecap="butt"/>
<polyline points="1475.6,26.0 1471.1,29.8 1475.6,33.6"/>
<polyline points="1682.9,26.0 1687.4,29.8 1682.9,33.6"/>
</g>
<g stroke="#8fabd6" stroke-width="2.2" fill="none" stroke-linecap="round" stroke-linejoin="round">
<line x1="1713.7" y1="29.8" x2="1930.0" y2="29.8" stroke-linecap="butt"/>
<polyline points="1718.2,26.0 1713.7,29.8 1718.2,33.6"/>
<polyline points="1925.5,26.0 1930.0,29.8 1925.5,33.6"/>
</g>
<g stroke="#8fabd6" stroke-width="2.2" fill="none" stroke-linecap="round" stroke-linejoin="round">
<line x1="1956.3" y1="29.8" x2="2172.6" y2="29.8" stroke-linecap="butt"/>
<polyline points="1960.8,26.0 1956.3,29.8 1960.8,33.6"/>
<polyline points="2168.1,26.0 2172.6,29.8 2168.1,33.6"/>
</g>
<g stroke="#8fabd6" stroke-width="2.2" fill="none" stroke-linecap="round" stroke-linejoin="round">
<line x1="2198.8" y1="29.8" x2="2415.2" y2="29.8" stroke-linecap="butt"/>
<polyline points="2203.3,26.0 2198.8,29.8 2203.3,33.6"/>
<polyline points="2410.7,26.0 2415.2,29.8 2410.7,33.6"/>
</g>
<g stroke="#8fabd6" stroke-width="2.2" fill="none" stroke-linecap="round" stroke-linejoin="round">
<line x1="2441.4" y1="29.8" x2="2513.0" y2="29.8" stroke-linecap="butt"/>
<polyline points="2445.9,26.0 2441.4,29.8 2445.9,33.6"/>
</g>
<g stroke="#8fabd6" stroke-width="3.0" fill="none" stroke-linecap="round" stroke-linejoin="round">
<line x1="134.7" y1="1430.2" x2="232.0" y2="1430.2" stroke-linecap="butt"/>
<polyline points="227.5,1426.4 232.0,1430.2 227.5,1434.0"/>
</g>
<g stroke="#8fabd6" stroke-width="3.0" fill="none" stroke-linecap="round" stroke-linejoin="round">
<line x1="258.3" y1="1430.2" x2="474.6" y2="1430.2" stroke-linecap="butt"/>
<polyline points="262.8,1426.4 258.3,1430.2 262.8,1434.0"/>
<polyline points="470.1,1426.4 474.6,1430.2 470.1,1434.0"/>
</g>
<g stroke="#8fabd6" stroke-width="3.0" fill="none" stroke-linecap="round" stroke-linejoin="round">
<line x1="500.9" y1="1430.2" x2="717.2" y2="1430.2" stroke-linecap="butt"/>
<polyline points="505.4,1426.4 500.9,1430.2 505.4,1434.0"/>
<polyline points="712.7,1426.4 717.2,1430.2 712.7,1434.0"/>
</g>
<g stroke="#8fabd6" stroke-width="3.0" fill="none" stroke-linecap="round" stroke-linejoin="round">
<line x1="743.4" y1="1430.2" x2="959.7" y2="1430.2" stroke-linecap="butt"/>
<polyline points="747.9,1426.4 743.4,1430.2 747.9,1434.0"/>
<polyline points="955.2,1426.4 959.7,1430.2 955.2,1434.0"/>
</g>
<g stroke="#8fabd6" stroke-width="3.0" fill="none" stroke-linecap="round" stroke-linejoin="round">
<line x1="986.0" y1="1430.2" x2="1202.3" y2="1430.2" stroke-linecap="butt"/>
<polyline points="990.5,1426.4 986.0,1430.2 990.5,1434.0"/>
<polyline points="1197.8,1426.4 1202.3,1430.2 1197.8,1434.0"/>
</g>
<g stroke="#8fabd6" stroke-width="3.0" fill="none" stroke-linecap="round" stroke-linejoin="round">
<line x1="1228.6" y1="1430.2" x2="1444.9" y2="1430.2" stroke-linecap="butt"/>
<polyline points="1233.1,1426.4 1228.6,1430.2 1233.1,1434.0"/>
<polyline points="1440.4,1426.4 1444.9,1430.2 1440.4,1434.0"/>
</g>
<g stroke="#8fabd6" stroke-width="3.0" fill="none" stroke-linecap="round" stroke-linejoin="round">
<line x1="1471.1" y1="1430.2" x2="1687.4" y2="1430.2" stroke-linecap="butt"/>
<polyline points="1475.6,1426.4 1471.1,1430.2 1475.6,1434.0"/>
<polyline points="1682.9,1426.4 1687.4,1430.2 1682.9,1434.0"/>
</g>
<g stroke="#8fabd6" stroke-width="3.0" fill="none" stroke-linecap="round" stroke-linejoin="round">
<line x1="1713.7" y1="1430.2" x2="1930.0" y2="1430.2" stroke-linecap="butt"/>
<polyline points="1718.2,1426.4 1713.7,1430.2 1718.2,1434.0"/>
<polyline points="1925.5,1426.4 1930.0,1430.2 1925.5,1434.0"/>
</g>
<g stroke="#8fabd6" stroke-width="3.0" fill="none" stroke-linecap="round" stroke-linejoin="round">
<line x1="1956.3" y1="1430.2" x2="2172.6" y2="1430.2" stroke-linecap="butt"/>
<polyline points="1960.8,1426.4 1956.3,1430.2 1960.8,1434.0"/>
<polyline points="2168.1,1426.4 2172.6,1430.2 2168.1,1434.0"/>
</g>
<g stroke="#8fabd6" stroke-width="3.0" fill="none" stroke-linecap="round" stroke-linejoin="round">
<line x1="2198.8" y1="1430.2" x2="2415.2" y2="1430.2" stroke-linecap="butt"/>
<polyline points="2203.3,1426.4 2198.8,1430.2 2203.3,1434.0"/>
<polyline points="2410.7,1426.4 2415.2,1430.2 2410.7,1434.0"/>
</g>
<g stroke="#8fabd6" stroke-width="3.0" fill="none" stroke-linecap="round" stroke-linejoin="round">
<line x1="2441.4" y1="1430.2" x2="2513.0" y2="1430.2" stroke-linecap="butt"/>
<polyline points="2445.9,1426.4 2441.4,1430.2 2445.9,1434.0"/>
</g>
<text x="34.6" y="144.7" font-size="27" fill="#555" font-weight="bold" textLength="96.0" lengthAdjust="spacingAndGlyphs">£10,000</text>
<text x="50.6" y="438.2" font-size="27" fill="#555" font-weight="bold" textLength="80.0" lengthAdjust="spacingAndGlyphs">£1,000</text>
<text x="73.0" y="731.0" font-size="27" fill="#555" font-weight="bold" textLength="57.6" lengthAdjust="spacingAndGlyphs">£100</text>
<text x="89.8" y="1023.2" font-size="27" fill="#555" font-weight="bold" textLength="40.8" lengthAdjust="spacingAndGlyphs">£10</text>
<text x="107.2" y="1313.2" font-size="27" fill="#555" font-weight="bold" textLength="23.4" lengthAdjust="spacingAndGlyphs">£1</text>
<rect x="161.5" y="1169.5" width="103.5" height="17.0" rx="3" fill="#fff" fill-opacity="0.93" stroke="#e4e4e4" stroke-width="1.6"/>
<text x="166.0" y="1181.5" font-size="13.5" fill="#525252" textLength="94.3" lengthAdjust="spacingAndGlyphs">General Strike</text>
<circle cx="149.2" cy="1178.3" r="4.1" fill="#fff" stroke="#8c8c8c" stroke-width="2.2"/>
<rect x="283.1" y="1143.7" width="123.7" height="33.4" rx="3" fill="#fff" fill-opacity="0.93" stroke="#e4e4e4" stroke-width="1.6"/>
<text x="287.0" y="1155.1" font-size="13.5" fill="#525252" textLength="115.2" lengthAdjust="spacingAndGlyphs">UK Abolished the</text>
<text x="287.0" y="1173.2" font-size="13.5" fill="#525252" textLength="95.5" lengthAdjust="spacingAndGlyphs">Gold Standard</text>
<circle cx="269.4" cy="1160.1" r="4.1" fill="#fff" stroke="#8c8c8c" stroke-width="2.2"/>
<rect x="258.9" y="1194.8" width="125.0" height="17.0" rx="3" fill="#fff" fill-opacity="0.93" stroke="#e4e4e4" stroke-width="1.6"/>
<text x="262.9" y="1207.0" font-size="13.5" fill="#525252" textLength="115.8" lengthAdjust="spacingAndGlyphs">Great Depression</text>
<circle cx="244.9" cy="1203.6" r="4.1" fill="#fff" stroke="#8c8c8c" stroke-width="2.2"/>
<rect x="426.2" y="1167.7" width="102.6" height="35.6" rx="3" fill="#fff" fill-opacity="0.93" stroke="#e4e4e4" stroke-width="1.6"/>
<text x="431.8" y="1180.9" font-size="13.5" fill="#525252" textLength="82.3" lengthAdjust="spacingAndGlyphs">King Edward</text>
<text x="431.8" y="1198.2" font-size="13.5" fill="#525252" textLength="91.4" lengthAdjust="spacingAndGlyphs">VIII Abdicates</text>
<circle cx="412.5" cy="1184.0" r="4.1" fill="#fff" stroke="#8c8c8c" stroke-width="2.2"/>
<rect x="451.1" y="1132.7" width="169.1" height="14.7" rx="3" fill="#fff" fill-opacity="0.93" stroke="#e4e4e4" stroke-width="1.6"/>
<text x="494.8" y="1144.4" font-size="13.5" fill="#525252" textLength="78.7" lengthAdjust="spacingAndGlyphs">World War II</text>
<rect x="783.8" y="858.9" width="79.6" height="15.6" rx="3" fill="#fff" fill-opacity="0.93" stroke="#e4e4e4" stroke-width="1.6"/>
<text x="792.3" y="870.3" font-size="13.5" fill="#525252" textLength="67.5" lengthAdjust="spacingAndGlyphs">Recession</text>
<circle cx="876.3" cy="867.5" r="4.1" fill="#fff" stroke="#8c8c8c" stroke-width="2.2"/>
<rect x="904.0" y="858.9" width="79.3" height="15.6" rx="3" fill="#fff" fill-opacity="0.93" stroke="#e4e4e4" stroke-width="1.6"/>
<text x="911.9" y="870.3" font-size="13.5" fill="#525252" textLength="67.5" lengthAdjust="spacingAndGlyphs">Recession</text>
<circle cx="997.0" cy="868.0" r="4.1" fill="#fff" stroke="#8c8c8c" stroke-width="2.2"/>
<rect x="1013.4" y="810.5" width="138.6" height="37.5" rx="3" fill="#fff" fill-opacity="0.93" stroke="#e4e4e4" stroke-width="1.6"/>
<text x="1020.0" y="825.0" font-size="13.5" fill="#525252" textLength="108.6" lengthAdjust="spacingAndGlyphs">Assassination of</text>
<text x="1020.0" y="842.2" font-size="13.5" fill="#525252" textLength="125.0" lengthAdjust="spacingAndGlyphs">President Kennedy</text>
<circle cx="1046.3" cy="798.4" r="4.1" fill="#fff" stroke="#8c8c8c" stroke-width="2.2"/>
<rect x="1205.9" y="708.1" width="93.5" height="39.5" rx="3" fill="#fff" fill-opacity="0.93" stroke="#e4e4e4" stroke-width="1.6"/>
<text x="1210.2" y="722.6" font-size="13.5" fill="#525252" textLength="82.9" lengthAdjust="spacingAndGlyphs">Double Digit</text>
<text x="1210.2" y="739.9" font-size="13.5" fill="#525252" textLength="52.6" lengthAdjust="spacingAndGlyphs">Inflation</text>
<circle cx="1311.0" cy="722.9" r="4.1" fill="#fff" stroke="#8c8c8c" stroke-width="2.2"/>
<rect x="1161.6" y="628.5" width="162.9" height="17.3" rx="3" fill="#fff" fill-opacity="0.93" stroke="#e4e4e4" stroke-width="1.6"/>
<text x="1170.2" y="641.6" font-size="13.5" fill="#525252" textLength="143.3" lengthAdjust="spacingAndGlyphs">UK Bailout by the IMF</text>
<circle cx="1338.0" cy="637.3" r="4.1" fill="#fff" stroke="#8c8c8c" stroke-width="2.2"/>
<rect x="1341.4" y="478.1" width="129.6" height="41.6" rx="3" fill="#fff" fill-opacity="0.93" stroke="#e4e4e4" stroke-width="1.6"/>
<circle cx="1482.6" cy="498.5" r="4.1" fill="#fff" stroke="#8c8c8c" stroke-width="2.2"/>
<rect x="1425.7" y="551.0" width="88.7" height="17.3" rx="3" fill="#fff" fill-opacity="0.93" stroke="#e4e4e4" stroke-width="1.6"/>
<text x="1435.9" y="563.9" font-size="13.5" fill="#525252" textLength="67.3" lengthAdjust="spacingAndGlyphs">Recession</text>
<rect x="1604.4" y="293.8" width="128.6" height="17.1" rx="3" fill="#fff" fill-opacity="0.93" stroke="#e4e4e4" stroke-width="1.6"/>
<text x="1611.1" y="306.3" font-size="13.5" fill="#525252" textLength="117.7" lengthAdjust="spacingAndGlyphs">Black Wednesday</text>
<circle cx="1748.3" cy="302.5" r="4.1" fill="#fff" stroke="#8c8c8c" stroke-width="2.2"/>
<rect x="1712.7" y="323.9" width="81.2" height="17.2" rx="3" fill="#fff" fill-opacity="0.93" stroke="#e4e4e4" stroke-width="1.6"/>
<text x="1719.7" y="336.9" font-size="13.5" fill="#525252" textLength="66.9" lengthAdjust="spacingAndGlyphs">Recession</text>
<circle cx="1699.7" cy="333.0" r="4.1" fill="#fff" stroke="#8c8c8c" stroke-width="2.2"/>
<rect x="1795.3" y="221.7" width="157.6" height="17.1" rx="3" fill="#fff" fill-opacity="0.93" stroke="#e4e4e4" stroke-width="1.6"/>
<text x="1803.4" y="233.4" font-size="13.5" fill="#525252" textLength="141.0" lengthAdjust="spacingAndGlyphs">September 11 Attacks</text>
<circle cx="1967.8" cy="230.2" r="4.1" fill="#fff" stroke="#8c8c8c" stroke-width="2.2"/>
<rect x="1815.9" y="150.7" width="115.9" height="17.1" rx="3" fill="#fff" fill-opacity="0.93" stroke="#e4e4e4" stroke-width="1.6"/>
<text x="1822.8" y="163.3" font-size="13.5" fill="#525252" textLength="102.8" lengthAdjust="spacingAndGlyphs">Dotcom Bubble</text>
<circle cx="1944.1" cy="159.2" r="4.1" fill="#fff" stroke="#8c8c8c" stroke-width="2.2"/>
<rect x="1934.9" y="176.8" width="126.0" height="36.8" rx="3" fill="#fff" fill-opacity="0.93" stroke="#e4e4e4" stroke-width="1.6"/>
<text x="1941.4" y="189.4" font-size="13.5" fill="#525252" textLength="109.6" lengthAdjust="spacingAndGlyphs">London Terrorist</text>
<text x="1941.4" y="207.3" font-size="13.5" fill="#525252" textLength="42.6" lengthAdjust="spacingAndGlyphs">Attack</text>
<circle cx="2070.2" cy="203.4" r="4.1" fill="#fff" stroke="#8c8c8c" stroke-width="2.2"/>
<rect x="2000.1" y="87.0" width="115.9" height="35.0" rx="3" fill="#fff" fill-opacity="0.93" stroke="#e4e4e4" stroke-width="1.6"/>
<text x="2004.6" y="99.5" font-size="13.5" fill="#525252" textLength="106.0" lengthAdjust="spacingAndGlyphs">Global Financial</text>
<text x="2004.6" y="117.5" font-size="13.5" fill="#525252" textLength="36.0" lengthAdjust="spacingAndGlyphs">Crisis</text>
<rect x="2071.1" y="143.0" width="150.0" height="39.2" rx="3" fill="#fff" fill-opacity="0.93" stroke="#e4e4e4" stroke-width="1.6"/>
<text x="2078.3" y="157.9" font-size="13.5" fill="#525252" textLength="134.8" lengthAdjust="spacingAndGlyphs">European Sovereign</text>
<text x="2078.3" y="175.0" font-size="13.5" fill="#525252" textLength="71.9" lengthAdjust="spacingAndGlyphs">Debt Crisis</text>
<circle cx="2210.7" cy="129.2" r="4.1" fill="#fff" stroke="#8c8c8c" stroke-width="2.2"/>
<rect x="2234.2" y="139.4" width="106.3" height="36.1" rx="3" fill="#fff" fill-opacity="0.93" stroke="#e4e4e4" stroke-width="1.6"/>
<text x="2238.0" y="152.3" font-size="13.5" fill="#525252" textLength="94.7" lengthAdjust="spacingAndGlyphs">Chinese Stock</text>
<text x="2238.0" y="169.7" font-size="13.5" fill="#525252" textLength="88.3" lengthAdjust="spacingAndGlyphs">Market Crash</text>
<circle cx="2308.9" cy="129.1" r="4.1" fill="#fff" stroke="#8c8c8c" stroke-width="2.2"/>
<text x="1347" y="494.1" font-size="13.5" fill="#525252" textLength="114.3" lengthAdjust="spacingAndGlyphs">UK Inflation; <tspan font-weight="bold">12%,</tspan></text>
<text x="1347" y="511.4" font-size="13.5" fill="#525252" textLength="117.6" lengthAdjust="spacingAndGlyphs">Interest Rate; <tspan font-weight="bold">14%</tspan></text>
<polygon points="453.5,1136.5 459.5,1140.0 453.5,1143.5" fill="none" stroke="#e3e3e3" stroke-width="1.3" stroke-linejoin="round"/>
<polygon points="617.5,1136.5 611.5,1140.0 617.5,1143.5" fill="none" stroke="#e3e3e3" stroke-width="1.3" stroke-linejoin="round"/>
<polygon points="1446.5,540.5 1453,543.75 1446.5,547" fill="#f0f0f0" stroke="#ececec" stroke-width="1.3" stroke-linejoin="round"/>
<polygon points="1494,540.5 1487.8,543.75 1494,547" fill="none" stroke="#ececec" stroke-width="1.3" stroke-linejoin="round"/>
<polygon points="2126.5,100 2133.5,104.25 2126.5,108.5" fill="#f0f0f0" stroke="#ececec" stroke-width="1.3" stroke-linejoin="round"/>
<polygon points="2173.5,100 2166.5,104.25 2173.5,108.5" fill="none" stroke="#efefef" stroke-width="1.3" stroke-linejoin="round"/>
<rect x="2267.3" y="68.5" width="57.1" height="11.6" rx="3" fill="#fff" fill-opacity="0.93" stroke="#e4e4e4" stroke-width="1.6"/>
<text x="2271.9" y="77.6" font-size="9.0" fill="#666" textLength="48.0" lengthAdjust="spacingAndGlyphs">Brexit Vote</text>
<circle cx="2334.0" cy="74.6" r="4.1" fill="#fff" stroke="#8c8c8c" stroke-width="2.2"/>
<rect x="2389.2" y="66.6" width="51.8" height="11.6" rx="3" fill="#fff" fill-opacity="0.93" stroke="#e4e4e4" stroke-width="1.6"/>
<text x="2392.7" y="75.0" font-size="9.0" fill="#666" textLength="45.8" lengthAdjust="spacingAndGlyphs">GameStop</text>
<circle cx="2452.6" cy="74.6" r="4.1" fill="#fff" stroke="#8c8c8c" stroke-width="2.2"/>
<rect x="2331.5" y="88.8" width="83.8" height="12.6" rx="3" fill="#fff" fill-opacity="0.93" stroke="#e4e4e4" stroke-width="1.6"/>
<text x="2334.7" y="97.8" font-size="8.6" fill="#666" textLength="78.0" lengthAdjust="spacingAndGlyphs">COVID Recession</text>
<circle cx="2423.0" cy="95.6" r="4.1" fill="#fff" stroke="#8c8c8c" stroke-width="2.2"/>
<rect x="2430.1" y="82.7" width="64.4" height="24.5" rx="3" fill="#fff" fill-opacity="0.93" stroke="#e4e4e4" stroke-width="1.6"/>
<text x="2432.7" y="92.4" font-size="8.2" fill="#4a4a4a" textLength="42.5" lengthAdjust="spacingAndGlyphs">Hamas-led</text>
<text x="2432.7" y="103.0" font-size="8.2" fill="#4a4a4a" textLength="60.6" lengthAdjust="spacingAndGlyphs">attack on Israel</text>
<circle cx="2503.6" cy="91.7" r="4.1" fill="#fff" stroke="#8c8c8c" stroke-width="2.2"/>
<rect x="2402.4" y="114.0" width="64.4" height="19.0" rx="3" fill="#fff" fill-opacity="0.93" stroke="#e4e4e4" stroke-width="1.6"/>
<text x="2407.3" y="121.4" font-size="6.6" fill="#9a9a9a" textLength="56.3" lengthAdjust="spacingAndGlyphs">Russian invasion</text>
<text x="2407.3" y="130.1" font-size="6.6" fill="#9a9a9a" textLength="35.0" lengthAdjust="spacingAndGlyphs">of Ukraine</text>
<circle cx="2479.5" cy="123.7" r="4.1" fill="#fff" stroke="#8c8c8c" stroke-width="2.2"/>
<polyline points="137.0,1236.6 216.6,1236.9 216.6,1257.5" fill="none" stroke="#6a7d99" stroke-width="1.0"/>
<polyline points="216.8,1257.5 216.8,1308.0" fill="none" stroke="#e6ebf3" stroke-width="1.2"/>
<polyline points="216.6,1237.2 359.8,1237.2 359.8,1257.0" fill="none" stroke="#c7a3a6" stroke-width="1.0"/>
<rect x="160" y="1224" width="42.8" height="24.5" fill="#2b65b4"/>
<text x="181.4" y="1233.8" font-size="9.6" fill="#fff" font-weight="bold" text-anchor="middle" textLength="34.4" lengthAdjust="spacingAndGlyphs">Stanley</text>
<text x="181.4" y="1246.5" font-size="9.6" fill="#fff" font-weight="bold" text-anchor="middle" textLength="37.3" lengthAdjust="spacingAndGlyphs">Baldwin</text>
<rect x="256.9" y="1222.9" width="72.9" height="24.4" fill="#ea8689"/>
<text x="293.4" y="1232.3" font-size="9.6" fill="#fdeeee" font-weight="bold" text-anchor="middle" textLength="36.3" lengthAdjust="spacingAndGlyphs">Ramsay</text>
<text x="293.4" y="1244.4" font-size="9.6" fill="#fdeeee" font-weight="bold" text-anchor="middle" textLength="53.1" lengthAdjust="spacingAndGlyphs">MacDonald</text>
<polyline points="360.0,1301.2 370.0,1301.2" fill="none" stroke="#c6dbf6" stroke-width="1.2"/>
<circle cx="370.6" cy="1301.3" r="2.4" fill="#fff"/>
<text x="369.8" y="1282.3" font-size="9.4" fill="#fff" font-weight="bold" textLength="34.0" lengthAdjust="spacingAndGlyphs">Stanley</text>
<text x="369.8" y="1295.0" font-size="9.4" fill="#fff" font-weight="bold" textLength="37.1" lengthAdjust="spacingAndGlyphs">Baldwin</text>
<polyline points="426.5,1298.3 410.8,1298.3 410.8,1308.0" fill="none" stroke="#c6dbf6" stroke-width="1.2"/>
<circle cx="426.5" cy="1298.3" r="2.4" fill="#fff"/>
<text x="424.8" y="1280.3" font-size="9.0" fill="#fff" font-weight="bold" textLength="31.9" lengthAdjust="spacingAndGlyphs">Neville</text>
<text x="424.8" y="1292.5" font-size="9.0" fill="#fff" font-weight="bold" textLength="60.0" lengthAdjust="spacingAndGlyphs">Chamberlain</text>
<polyline points="555.3,1298.3 555.3,1303.8 481.1,1303.8 481.1,1308.0" fill="none" stroke="#c6dbf6" stroke-width="1.4"/>
<circle cx="555.3" cy="1298.3" r="2.5" fill="#fff"/>
<text x="531.7" y="1272.3" font-size="15.2" fill="#fff" font-weight="bold" textLength="60.5" lengthAdjust="spacingAndGlyphs">Winston</text>
<text x="531.7" y="1293.0" font-size="15.2" fill="#fff" font-weight="bold" textLength="66.1" lengthAdjust="spacingAndGlyphs">Churchill</text>
<text x="625.8" y="1265.2" font-size="15.2" fill="#fef3f3" font-weight="bold" textLength="111.9" lengthAdjust="spacingAndGlyphs">Clement Attlee</text>
<polyline points="758.6,1263.3 765.6,1263.3" fill="none" stroke="#c6dbf6" stroke-width="1.3"/>
<circle cx="765.6" cy="1263.3" r="2.3" fill="#fff"/>
<text x="772.3" y="1268.2" font-size="15.2" fill="#fff" font-weight="bold" textLength="60.5" lengthAdjust="spacingAndGlyphs">Winston</text>
<text x="772.3" y="1288.7" font-size="15.2" fill="#fff" font-weight="bold" textLength="66.4" lengthAdjust="spacingAndGlyphs">Churchill</text>
<polyline points="845.7,1225.2 845.7,1308.0" fill="none" stroke="#c6dbf6" stroke-width="1.4"/>
<circle cx="845.7" cy="1225.2" r="2.4" fill="#fff"/>
<text x="841.2" y="1210.5" font-size="15.2" fill="#fff" font-weight="bold" text-anchor="end" textLength="64.4" lengthAdjust="spacingAndGlyphs">Anthony</text>
<text x="840.3" y="1230.1" font-size="15.2" fill="#fff" font-weight="bold" text-anchor="end" textLength="37.1" lengthAdjust="spacingAndGlyphs">Eden</text>
<polyline points="885.2,1225.2 885.2,1308.0" fill="none" stroke="#c6dbf6" stroke-width="1.4"/>
<circle cx="885.2" cy="1225.2" r="2.4" fill="#fff"/>
<text x="890.0" y="1220.3" font-size="15.2" fill="#fff" font-weight="bold" textLength="49.8" lengthAdjust="spacingAndGlyphs">Harold</text>
<text x="890.0" y="1240.8" font-size="15.2" fill="#fff" font-weight="bold" textLength="76.2" lengthAdjust="spacingAndGlyphs">Macmillan</text>
<polyline points="1049.2,1214.1 1049.2,1308.0" fill="none" stroke="#86a9dc" stroke-width="1.0"/>
<circle cx="1049.2" cy="1214.1" r="2.2" fill="#fff"/>
<text x="1069.7" y="1186.1" font-size="15.2" fill="#fff" font-weight="bold" text-anchor="end" textLength="32.2" lengthAdjust="spacingAndGlyphs">Alec</text>
<text x="1069.7" y="1206.6" font-size="15.2" fill="#fff" font-weight="bold" text-anchor="end" textLength="111.3" lengthAdjust="spacingAndGlyphs">Douglas-Home</text>
<text x="1143.6" y="1132.2" font-size="15.2" fill="#fef3f3" font-weight="bold" text-anchor="middle" textLength="49.6" lengthAdjust="spacingAndGlyphs">Harold</text>
<text x="1143.6" y="1152.4" font-size="15.2" fill="#fef3f3" font-weight="bold" text-anchor="middle" textLength="49.2" lengthAdjust="spacingAndGlyphs">Wilson</text>
<text x="1259.0" y="1084.7" font-size="15.2" fill="#fff" font-weight="bold" text-anchor="middle" textLength="55.5" lengthAdjust="spacingAndGlyphs">Edward</text>
<text x="1259.0" y="1104.8" font-size="15.2" fill="#fff" font-weight="bold" text-anchor="middle" textLength="44.2" lengthAdjust="spacingAndGlyphs">Heath</text>
<polyline points="1356.6,993.0 1356.6,1047.5" fill="none" stroke="#fbe3e3" stroke-width="1.6"/>
<polyline points="1356.6,1082.0 1356.6,1308.0" fill="none" stroke="#fbe3e3" stroke-width="1.6"/>
<circle cx="1356.6" cy="993.0" r="2.4" fill="#fdeeee"/>
<text x="1358.4" y="963.5" font-size="15.2" fill="#fef3f3" font-weight="bold" text-anchor="middle" textLength="47.4" lengthAdjust="spacingAndGlyphs">James</text>
<text x="1358.4" y="983.6" font-size="15.2" fill="#fef3f3" font-weight="bold" text-anchor="middle" textLength="75.2" lengthAdjust="spacingAndGlyphs">Callaghan</text>
<polyline points="1303.0,1055.2 1306.5,1055.2" fill="none" stroke="#fbe3e3" stroke-width="1.3"/>
<circle cx="1306.5" cy="1055.2" r="2.4" fill="#fdeeee"/>
<text x="1312.2" y="1058.8" font-size="15.2" fill="#fef3f3" font-weight="bold" textLength="48.9" lengthAdjust="spacingAndGlyphs">Harold</text>
<text x="1312.2" y="1079.4" font-size="15.2" fill="#fef3f3" font-weight="bold" textLength="48.9" lengthAdjust="spacingAndGlyphs">Wilson</text>
<polyline points="1425.9,953.9 1447.0,953.9" fill="none" stroke="#c6dbf6" stroke-width="1.3"/>
<circle cx="1447.0" cy="953.9" r="2.4" fill="#fff"/>
<text x="1454.0" y="961.6" font-size="25" fill="#fff" font-weight="bold" textLength="228.0" lengthAdjust="spacingAndGlyphs">Margaret Thatcher</text>
<polyline points="1708.7,911.7 1708.7,1308.0" fill="none" stroke="#8fb2e2" stroke-width="1.0"/>
<circle cx="1708.7" cy="911.7" r="2.4" fill="#fff"/>
<text x="1640.8" y="901.9" font-size="25" fill="#fff" font-weight="bold" textLength="136.0" lengthAdjust="spacingAndGlyphs">John Major</text>
<polyline points="1864.8,856.9 1881.2,856.9" fill="none" stroke="#fbe3e3" stroke-width="1.3"/>
<circle cx="1881.2" cy="856.9" r="2.3" fill="#fdeeee"/>
<text x="1891.0" y="862.5" font-size="25" fill="#fff" font-weight="bold" textLength="117.2" lengthAdjust="spacingAndGlyphs">Tony Blair</text>
<polyline points="2111.1,826.3 2111.1,1308.0" fill="none" stroke="#fbe3e3" stroke-width="1.0"/>
<circle cx="2111.1" cy="826.3" r="2.3" fill="#fdeeee"/>
<text x="1989.7" y="814.8" font-size="25" fill="#fff" font-weight="bold" textLength="178.0" lengthAdjust="spacingAndGlyphs">Gordon Brown</text>
<polyline points="2178.4,734.1 2195.2,734.1" fill="none" stroke="#c6dbf6" stroke-width="1.3"/>
<circle cx="2195.2" cy="734.1" r="2.4" fill="#fff"/>
<text x="2201.4" y="741.4" font-size="25" fill="#fff" font-weight="bold" textLength="68.8" lengthAdjust="spacingAndGlyphs">David</text>
<text x="2201.4" y="773.4" font-size="25" fill="#fff" font-weight="bold" textLength="111.0" lengthAdjust="spacingAndGlyphs">Cameron</text>
<polyline points="2333.4,622.4 2333.4,1308.0" fill="none" stroke="#c6dbf6" stroke-width="1.4"/>
<circle cx="2333.4" cy="622.4" r="2.4" fill="#fff"/>
<text x="2203.1" y="605.8" font-size="25" fill="#fff" font-weight="bold" textLength="156.2" lengthAdjust="spacingAndGlyphs">Theresa May</text>
<polyline points="2402.2,586.8 2402.2,1308.0" fill="none" stroke="#c6dbf6" stroke-width="1.4"/>
<circle cx="2402.2" cy="586.8" r="2.4" fill="#fff"/>
<text x="2275.0" y="572.8" font-size="25" fill="#fff" font-weight="bold" textLength="173.5" lengthAdjust="spacingAndGlyphs">Boris Johnson</text>
<polyline points="2461.8,491.8 2475.6,491.8 2475.6,1308.0" fill="none" stroke="#c6dbf6" stroke-width="1.2"/>
<circle cx="2461.8" cy="491.8" r="2.4" fill="#fff"/>
<text x="2336.2" y="498.4" font-size="25" fill="#fff" font-weight="bold" textLength="105.8" lengthAdjust="spacingAndGlyphs">Liz Truss</text>
<polyline points="2478.5,449.7 2478.5,1308.0" fill="none" stroke="#c6dbf6" stroke-width="1.4"/>
<circle cx="2478.3" cy="449.7" r="2.5" fill="#fff"/>
<text x="2324.6" y="455.0" font-size="25" fill="#fff" font-weight="bold" textLength="143.0" lengthAdjust="spacingAndGlyphs">Rishi Sunak</text>
<rect x="160.3" y="135.3" width="404.3" height="297.9" fill="#2b65b4"/>
<rect x="164.9" y="140.4" width="395" height="288" fill="none" stroke="#eaf3ff" stroke-width="2.6"/>
<rect x="164.9" y="191.4" width="395" height="2.9" fill="#eaf3ff"/>
<rect x="361.7" y="339.7" width="1.1" height="70" fill="#dbe8fb"/>
<text x="362.0" y="178.2" font-size="39.5" fill="#fff" font-weight="bold" text-anchor="middle" textLength="42.8" lengthAdjust="spacingAndGlyphs">10</text>
<text x="362.8" y="248.6" font-size="27.5" fill="#fff" font-weight="bold" text-anchor="middle" textLength="155.2" lengthAdjust="spacingAndGlyphs">UK Equities</text>
<text x="362.0" y="304.2" font-size="40" fill="#fff" font-weight="bold" text-anchor="middle" textLength="118.8" lengthAdjust="spacingAndGlyphs">£10.6k</text>
<text x="264.6" y="342.2" font-size="9.6" fill="#fff" font-weight="bold" text-anchor="middle" textLength="123.6" lengthAdjust="spacingAndGlyphs">Average Calendar Return</text>
<text x="460.5" y="339.0" font-size="9.6" fill="#fff" font-weight="bold" text-anchor="middle" textLength="43.5" lengthAdjust="spacingAndGlyphs">Volatility</text>
<text x="266.6" y="394.5" font-size="38" fill="#fff" font-weight="bold" text-anchor="middle" textLength="72.0" lengthAdjust="spacingAndGlyphs">12%</text>
<text x="457.5" y="394.5" font-size="38" fill="#fff" font-weight="bold" text-anchor="middle" textLength="78.5" lengthAdjust="spacingAndGlyphs">23%</text>
<rect x="12.1" y="1073.9" width="112.5" height="53" rx="4" fill="#fff" stroke="#e6e6e6" stroke-width="2"/>
<text x="59.5" y="1096.4" font-size="19.5" fill="#555" text-anchor="middle" textLength="47.8" lengthAdjust="spacingAndGlyphs" style="font-family:'Liberation Serif',serif">Major</text>
<text x="59.5" y="1120.6" font-size="19.5" fill="#555" text-anchor="middle" textLength="55.6" lengthAdjust="spacingAndGlyphs" style="font-family:'Liberation Serif',serif">Events</text>
<polygon points="110.4,1088.8 119.3,1093.8 110.4,1098.8" fill="#fff" stroke="#959595" stroke-width="2.1" stroke-linejoin="round"/>
<circle cx="114.5" cy="1105.6" r="4.1" fill="#fff" stroke="#9a9a9a" stroke-width="2.1"/>
<rect x="11.1" y="1140.5" width="114.8" height="36.4" fill="#2b65b4"/>
<text x="68.4" y="1165.8" font-size="19.5" fill="#e8f2ff" text-anchor="middle" textLength="104.0" lengthAdjust="spacingAndGlyphs" style="font-family:'Liberation Serif',serif">Conservative</text>
<rect x="11.1" y="1185" width="114.8" height="36.4" fill="#ea8689"/>
<text x="69.0" y="1209.6" font-size="19.5" fill="#fdf0f0" text-anchor="middle" textLength="61.0" lengthAdjust="spacingAndGlyphs" style="font-family:'Liberation Serif',serif">Labour</text>
</g>
</svg></body></html>
